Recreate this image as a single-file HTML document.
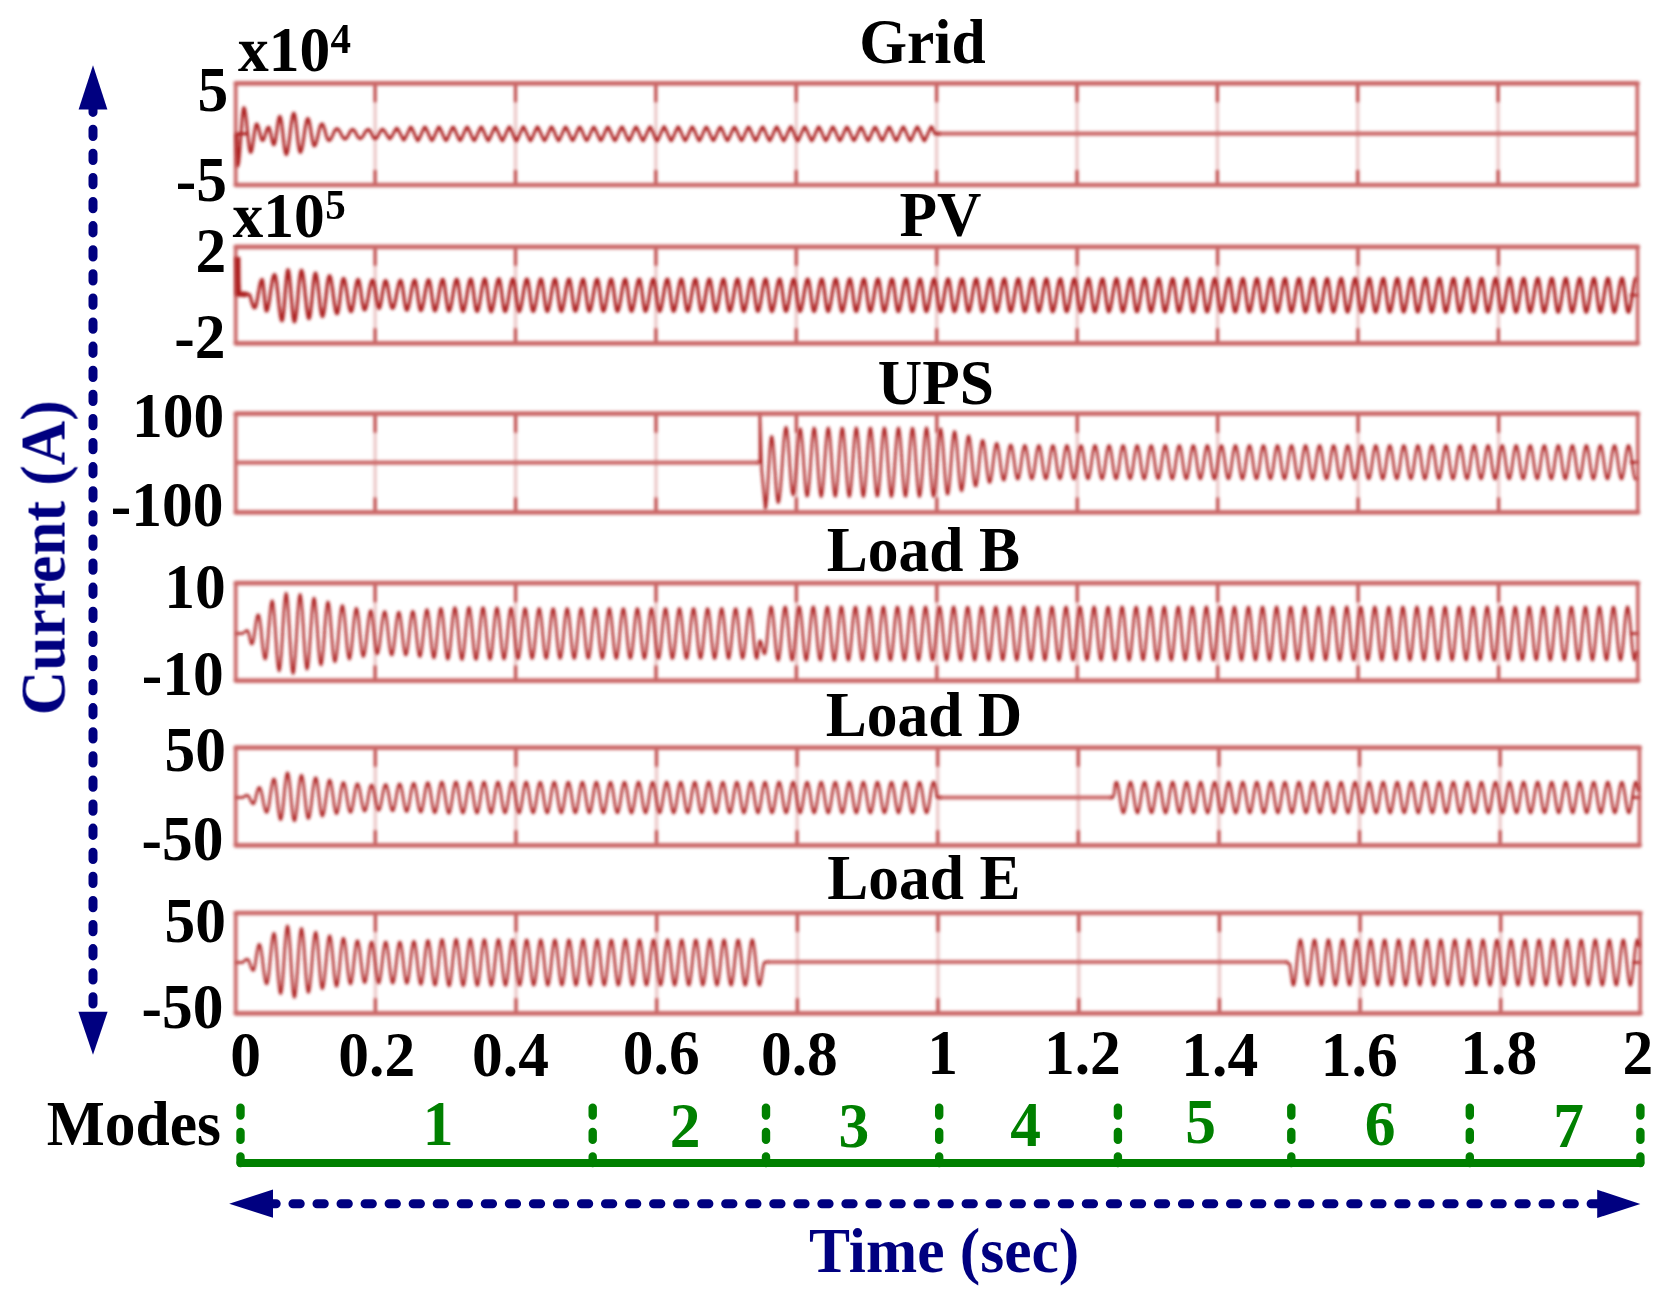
<!DOCTYPE html>
<html lang="en"><head><meta charset="utf-8"><title>Current waveforms</title>
<style>html,body{margin:0;padding:0;background:#fff;}body{width:1670px;height:1306px;overflow:hidden;}svg{display:block;}</style>
</head><body>
<svg width="1670" height="1306" viewBox="0 0 1670 1306" role="img" aria-label="Current waveforms">
<defs><filter id="b" x="-2%" y="-2%" width="104%" height="104%"><feGaussianBlur stdDeviation="1.35"/></filter><filter id="b2" x="-2%" y="-2%" width="104%" height="104%"><feGaussianBlur stdDeviation="1.6"/></filter><filter id="t" x="-2%" y="-2%" width="104%" height="104%"><feGaussianBlur stdDeviation="0.7"/></filter></defs>
<rect width="1670" height="1306" fill="#fff"/>
<g filter="url(#b)" fill="none" stroke="rgb(203,104,104)" stroke-linejoin="round" stroke-linecap="butt">
<path d="M375.1 83.3V185.0M515.5 83.3V185.0M655.8 83.3V185.0M796.2 83.3V185.0M936.6 83.3V185.0M1077.0 83.3V185.0M1217.4 83.3V185.0M1357.7 83.3V185.0M1498.1 83.3V185.0" stroke-width="3.4" stroke-opacity="0.36"/>
<path d="M375.1 83.3v19M375.1 185.0v-15M515.5 83.3v19M515.5 185.0v-15M655.8 83.3v19M655.8 185.0v-15M796.2 83.3v19M796.2 185.0v-15M936.6 83.3v19M936.6 185.0v-15M1077.0 83.3v19M1077.0 185.0v-15M1217.4 83.3v19M1217.4 185.0v-15M1357.7 83.3v19M1357.7 185.0v-15M1498.1 83.3v19M1498.1 185.0v-15" stroke-width="3.2" stroke="rgb(190,70,70)" stroke-opacity="0.95"/>
<path d="M235.7 83.3H1637.6M235.7 185.0H1637.6" stroke-width="4.7" stroke-linecap="round"/>
<path d="M235.7 83.3V185.0M1637.3 83.3V185.0" stroke-width="3.7"/>
<path d="M375.1 246.8V343.3M515.5 246.8V343.3M655.9 246.8V343.3M796.3 246.8V343.3M936.7 246.8V343.3M1077.2 246.8V343.3M1217.6 246.8V343.3M1358.0 246.8V343.3M1498.4 246.8V343.3" stroke-width="3.4" stroke-opacity="0.36"/>
<path d="M375.1 246.8v19M375.1 343.3v-15M515.5 246.8v19M515.5 343.3v-15M655.9 246.8v19M655.9 343.3v-15M796.3 246.8v19M796.3 343.3v-15M936.7 246.8v19M936.7 343.3v-15M1077.2 246.8v19M1077.2 343.3v-15M1217.6 246.8v19M1217.6 343.3v-15M1358.0 246.8v19M1358.0 343.3v-15M1498.4 246.8v19M1498.4 343.3v-15" stroke-width="3.2" stroke="rgb(190,70,70)" stroke-opacity="0.95"/>
<path d="M235.7 246.8H1637.9M235.7 343.3H1637.9" stroke-width="4.7" stroke-linecap="round"/>
<path d="M235.7 246.8V343.3M1637.6 246.8V343.3" stroke-width="3.7"/>
<path d="M375.1 413.7V512.4M515.6 413.7V512.4M656.0 413.7V512.4M796.4 413.7V512.4M936.8 413.7V512.4M1077.3 413.7V512.4M1217.7 413.7V512.4M1358.1 413.7V512.4M1498.6 413.7V512.4" stroke-width="3.4" stroke-opacity="0.36"/>
<path d="M375.1 413.7v19M375.1 512.4v-15M515.6 413.7v19M515.6 512.4v-15M656.0 413.7v19M656.0 512.4v-15M796.4 413.7v19M796.4 512.4v-15M936.8 413.7v19M936.8 512.4v-15M1077.3 413.7v19M1077.3 512.4v-15M1217.7 413.7v19M1217.7 512.4v-15M1358.1 413.7v19M1358.1 512.4v-15M1498.6 413.7v19M1498.6 512.4v-15" stroke-width="3.2" stroke="rgb(190,70,70)" stroke-opacity="0.95"/>
<path d="M235.7 413.7H1638.1M235.7 512.4H1638.1" stroke-width="4.7" stroke-linecap="round"/>
<path d="M235.7 413.7V512.4M1637.8 413.7V512.4" stroke-width="3.7"/>
<path d="M375.1 583.2V680.6M515.6 583.2V680.6M656.0 583.2V680.6M796.4 583.2V680.6M936.8 583.2V680.6M1077.3 583.2V680.6M1217.7 583.2V680.6M1358.1 583.2V680.6M1498.6 583.2V680.6" stroke-width="3.4" stroke-opacity="0.36"/>
<path d="M375.1 583.2v19M375.1 680.6v-15M515.6 583.2v19M515.6 680.6v-15M656.0 583.2v19M656.0 680.6v-15M796.4 583.2v19M796.4 680.6v-15M936.8 583.2v19M936.8 680.6v-15M1077.3 583.2v19M1077.3 680.6v-15M1217.7 583.2v19M1217.7 680.6v-15M1358.1 583.2v19M1358.1 680.6v-15M1498.6 583.2v19M1498.6 680.6v-15" stroke-width="3.2" stroke="rgb(190,70,70)" stroke-opacity="0.95"/>
<path d="M235.7 583.2H1638.1M235.7 680.6H1638.1" stroke-width="4.7" stroke-linecap="round"/>
<path d="M235.7 583.2V680.6M1637.8 583.2V680.6" stroke-width="3.7"/>
<path d="M375.3 747.7V845.3M515.9 747.7V845.3M656.5 747.7V845.3M797.1 747.7V845.3M937.7 747.7V845.3M1078.3 747.7V845.3M1218.9 747.7V845.3M1359.5 747.7V845.3M1500.1 747.7V845.3" stroke-width="3.4" stroke-opacity="0.36"/>
<path d="M375.3 747.7v19M375.3 845.3v-15M515.9 747.7v19M515.9 845.3v-15M656.5 747.7v19M656.5 845.3v-15M797.1 747.7v19M797.1 845.3v-15M937.7 747.7v19M937.7 845.3v-15M1078.3 747.7v19M1078.3 845.3v-15M1218.9 747.7v19M1218.9 845.3v-15M1359.5 747.7v19M1359.5 845.3v-15M1500.1 747.7v19M1500.1 845.3v-15" stroke-width="3.2" stroke="rgb(190,70,70)" stroke-opacity="0.95"/>
<path d="M235.7 747.7H1639.8M235.7 845.3H1639.8" stroke-width="4.7" stroke-linecap="round"/>
<path d="M235.7 747.7V845.3M1639.5 747.7V845.3" stroke-width="3.7"/>
<path d="M375.4 913.0V1013.3M516.0 913.0V1013.3M656.7 913.0V1013.3M797.4 913.0V1013.3M938.0 913.0V1013.3M1078.7 913.0V1013.3M1219.4 913.0V1013.3M1360.1 913.0V1013.3M1500.7 913.0V1013.3" stroke-width="3.4" stroke-opacity="0.36"/>
<path d="M375.4 913.0v19M375.4 1013.3v-15M516.0 913.0v19M516.0 1013.3v-15M656.7 913.0v19M656.7 1013.3v-15M797.4 913.0v19M797.4 1013.3v-15M938.0 913.0v19M938.0 1013.3v-15M1078.7 913.0v19M1078.7 1013.3v-15M1219.4 913.0v19M1219.4 1013.3v-15M1360.1 913.0v19M1360.1 1013.3v-15M1500.7 913.0v19M1500.7 1013.3v-15" stroke-width="3.2" stroke="rgb(190,70,70)" stroke-opacity="0.95"/>
<path d="M235.7 913.0H1640.5M235.7 1013.3H1640.5" stroke-width="4.7" stroke-linecap="round"/>
<path d="M235.7 913.0V1013.3M1640.2 913.0V1013.3" stroke-width="3.7"/>
<path d="M938.5 133.6H1637.5M236.0 462.6H759.0M939.5 797.5H1112.0M767.0 962.0H1288.0" stroke-width="4.2"/>
</g>
<g filter="url(#b2)" fill="none" stroke="rgb(172,30,30)" stroke-linejoin="round" stroke-linecap="butt">
<path d="M236.5 133.8L237.0 150.0L237.6 166.0L238.4 163.8L239.2 157.5L240.0 148.0L240.8 136.8L241.6 125.7L242.3 116.2L243.1 109.9L243.9 107.6L244.7 109.0L245.4 112.9L246.2 118.9L246.9 126.2L247.7 134.0L248.5 141.3L249.2 147.2L250.0 151.1L250.7 152.5L251.5 151.4L252.2 148.3L252.9 143.6L253.7 138.1L254.4 132.7L255.2 128.0L255.9 124.9L256.6 123.8L257.4 124.5L258.1 126.3L258.9 129.0L259.6 132.2L260.4 135.4L261.1 138.2L261.8 140.0L262.6 140.6L263.3 140.1L264.1 138.6L264.8 136.4L265.5 133.8L266.3 131.2L267.0 129.0L267.8 127.6L268.5 127.0L269.3 127.9L270.0 130.4L270.8 134.0L271.6 138.0L272.4 141.6L273.1 144.0L273.9 144.9L274.6 143.8L275.4 140.7L276.1 136.1L276.9 130.6L277.6 125.1L278.3 120.5L279.1 117.4L279.8 116.3L280.5 117.4L281.3 120.8L282.0 125.9L282.7 132.1L283.4 138.8L284.1 145.0L284.8 150.1L285.6 153.5L286.3 154.6L287.0 153.6L287.8 150.7L288.5 146.1L289.3 140.3L290.1 133.8L290.8 127.4L291.6 121.6L292.3 117.0L293.1 114.1L293.8 113.0L294.5 114.2L295.3 117.6L296.0 122.9L296.7 129.3L297.4 136.2L298.1 142.6L298.9 147.9L299.6 151.3L300.3 152.5L301.1 151.6L301.8 149.2L302.6 145.5L303.3 140.7L304.1 135.4L304.8 130.2L305.6 125.4L306.3 121.7L307.1 119.3L307.8 118.4L308.6 119.3L309.3 121.7L310.0 125.3L310.7 129.8L311.4 134.6L312.2 139.1L312.9 142.8L313.6 145.2L314.3 146.0L315.1 145.5L315.8 143.9L316.6 141.4L317.3 138.3L318.1 134.9L318.8 131.5L319.6 128.4L320.3 125.9L321.1 124.4L321.9 123.8L322.6 124.3L323.4 125.8L324.2 128.0L325.0 130.8L325.7 133.7L326.5 136.4L327.3 138.6L328.1 140.1L328.9 140.6L329.6 140.4L330.3 139.7L331.1 138.6L331.8 137.1L332.5 135.5L333.3 133.8L334.0 132.2L334.7 130.7L335.5 129.6L336.2 128.9L336.9 128.7L337.7 128.9L338.4 129.5L339.1 130.4L339.9 131.7L340.6 133.1L341.4 134.6L342.1 136.0L342.8 137.2L343.6 138.2L344.3 138.8L345.0 139.0L345.8 138.8L346.5 138.1L347.3 137.0L348.0 135.7L348.8 134.2L349.6 132.7L350.3 131.4L351.1 130.3L351.8 129.7L352.6 129.4L353.3 129.6L354.1 130.3L354.8 131.3L355.6 132.6L356.3 134.0L357.1 135.5L357.9 136.8L358.6 137.8L359.4 138.4L360.1 138.7L360.9 138.5L361.6 137.9L362.3 137.1L363.1 136.0L363.8 134.7L364.5 133.4L365.3 132.1L366.0 131.0L366.7 130.2L367.5 129.6L368.2 129.4L369.0 129.7L369.8 130.5L370.5 131.7L371.3 133.2L372.1 134.8L372.9 136.4L373.6 137.6L374.4 138.4L375.2 138.7L376.0 138.4L376.7 137.8L377.5 136.7L378.2 135.4L379.0 133.9L379.7 132.5L380.5 131.2L381.2 130.1L382.0 129.4L382.8 129.2L383.5 129.9L384.2 130.7L384.9 131.6L385.5 132.7L386.2 133.8L386.9 134.9L387.6 136.1L388.3 137.1L389.0 138.1L389.7 139.0L390.4 138.3L391.1 137.4L391.8 136.3L392.5 135.2L393.2 133.9L393.9 132.6L394.6 131.3L395.3 130.1L396.0 129.0L396.7 128.1L397.4 128.7L398.1 129.7L398.8 130.9L399.5 132.2L400.2 133.6L400.9 135.0L401.6 136.5L402.3 137.8L403.0 139.0L403.7 140.1L404.4 139.4L405.1 138.3L405.8 137.0L406.5 135.6L407.2 134.1L407.9 132.5L408.6 131.0L409.3 129.5L410.0 128.1L410.7 127.0L411.4 127.6L412.1 128.8L412.8 130.2L413.5 131.8L414.2 133.4L414.9 135.1L415.6 136.7L416.3 138.2L417.0 139.6L417.7 140.7L418.4 140.2L419.1 138.9L419.8 137.5L420.5 135.9L421.2 134.3L421.9 132.6L422.6 131.0L423.3 129.4L424.0 128.1L424.7 126.9L425.4 127.3L426.1 128.6L426.8 130.0L427.5 131.6L428.2 133.2L428.9 134.9L429.6 136.5L430.3 138.1L431.0 139.4L431.7 140.6L432.4 140.3L433.1 139.1L433.8 137.7L434.5 136.1L435.2 134.4L435.9 132.8L436.6 131.1L437.3 129.6L438.0 128.2L438.7 127.0L439.4 127.2L440.1 128.5L440.8 129.9L441.5 131.4L442.2 133.1L442.9 134.7L443.6 136.4L444.3 137.9L445.0 139.3L445.7 140.5L446.4 140.4L447.1 139.2L447.8 137.8L448.5 136.3L449.2 134.6L449.9 132.9L450.6 131.3L451.3 129.7L452.0 128.3L452.7 127.1L453.4 127.1L454.1 128.3L454.8 129.7L455.5 131.3L456.2 132.9L456.9 134.6L457.6 136.2L458.3 137.8L459.0 139.2L459.7 140.4L460.4 140.5L461.1 139.3L461.8 138.0L462.5 136.4L463.2 134.8L463.9 133.1L464.6 131.5L465.3 129.9L466.0 128.5L466.7 127.3L467.4 127.0L468.1 128.2L468.8 129.6L469.5 131.1L470.2 132.7L470.9 134.4L471.6 136.1L472.3 137.6L473.0 139.0L473.7 140.3L474.4 140.6L475.1 139.5L475.8 138.1L476.5 136.6L477.2 135.0L477.9 133.3L478.6 131.6L479.3 130.1L480.0 128.6L480.7 127.4L481.4 126.9L482.1 128.1L482.8 129.4L483.5 130.9L484.2 132.6L484.9 134.2L485.6 135.9L486.3 137.5L487.0 138.9L487.7 140.2L488.4 140.8L489.1 139.6L489.8 138.3L490.5 136.7L491.2 135.1L491.9 133.4L492.6 131.8L493.3 130.2L494.0 128.8L494.7 127.5L495.4 126.8L496.1 127.9L496.8 129.3L497.5 130.8L498.2 132.4L498.9 134.1L499.6 135.7L500.3 137.3L501.0 138.8L501.7 140.1L502.4 140.9L503.1 139.7L503.8 138.4L504.5 136.9L505.2 135.3L505.9 133.6L506.6 132.0L507.3 130.4L508.0 128.9L508.7 127.6L509.4 126.7L510.1 127.8L510.8 129.1L511.5 130.6L512.2 132.2L512.9 133.9L513.6 135.6L514.3 137.2L515.0 138.6L515.7 139.9L516.4 141.0L517.1 139.9L517.8 138.5L518.5 137.1L519.2 135.5L519.9 133.8L520.6 132.1L521.3 130.5L522.0 129.0L522.7 127.7L523.4 126.6L524.1 127.7L524.8 129.0L525.5 130.5L526.2 132.1L526.9 133.7L527.6 135.4L528.3 137.0L529.0 138.5L529.7 139.8L530.4 140.9L531.1 140.0L531.8 138.7L532.5 137.2L533.2 135.6L533.9 134.0L534.6 132.3L535.3 130.7L536.0 129.2L536.7 127.9L537.4 126.7L538.1 127.6L538.8 128.8L539.5 130.3L540.2 131.9L540.9 133.6L541.6 135.2L542.3 136.8L543.0 138.3L543.7 139.7L544.4 140.8L545.1 140.1L545.8 138.8L546.5 137.4L547.2 135.8L547.9 134.1L548.6 132.5L549.3 130.8L550.0 129.3L550.7 128.0L551.4 126.8L552.1 127.4L552.8 128.7L553.5 130.1L554.2 131.7L554.9 133.4L555.6 135.1L556.3 136.7L557.0 138.2L557.7 139.6L558.4 140.7L559.1 140.2L559.8 139.0L560.5 137.5L561.2 136.0L561.9 134.3L562.6 132.6L563.3 131.0L564.0 129.5L564.7 128.1L565.4 126.9L566.1 127.3L566.8 128.6L567.5 130.0L568.2 131.6L568.9 133.2L569.6 134.9L570.3 136.5L571.0 138.0L571.7 139.4L572.4 140.6L573.1 140.3L573.8 139.1L574.5 137.7L575.2 136.1L575.9 134.5L576.6 132.8L577.3 131.2L578.0 129.6L578.7 128.2L579.4 127.0L580.1 127.2L580.8 128.4L581.5 129.8L582.2 131.4L582.9 133.0L583.6 134.7L584.3 136.4L585.0 137.9L585.7 139.3L586.4 140.5L587.1 140.4L587.8 139.2L588.5 137.8L589.2 136.3L589.9 134.6L590.6 133.0L591.3 131.3L592.0 129.8L592.7 128.4L593.4 127.2L594.1 127.1L594.8 128.3L595.5 129.7L596.2 131.2L596.9 132.9L597.6 134.5L598.3 136.2L599.0 137.7L599.7 139.2L600.4 140.4L601.1 140.6L601.8 139.4L602.5 138.0L603.2 136.4L603.9 134.8L604.6 133.1L605.3 131.5L606.0 129.9L606.7 128.5L607.4 127.3L608.1 127.0L608.8 128.2L609.5 129.5L610.2 131.1L610.9 132.7L611.6 134.4L612.3 136.0L613.0 137.6L613.7 139.0L614.4 140.3L615.1 140.7L615.8 139.5L616.5 138.1L617.2 136.6L617.9 135.0L618.6 133.3L619.3 131.7L620.0 130.1L620.7 128.6L621.4 127.4L622.1 126.9L622.8 128.0L623.5 129.4L624.2 130.9L624.9 132.5L625.6 134.2L626.3 135.9L627.0 137.4L627.7 138.9L628.4 140.1L629.1 140.8L629.8 139.6L630.5 138.3L631.2 136.8L631.9 135.2L632.6 133.5L633.3 131.8L634.0 130.2L634.7 128.8L635.4 127.5L636.1 126.8L636.8 127.9L637.5 129.2L638.2 130.7L638.9 132.4L639.6 134.0L640.3 135.7L641.0 137.3L641.7 138.7L642.4 140.0L643.1 140.9L643.8 139.8L644.5 138.4L645.2 136.9L645.9 135.3L646.6 133.7L647.3 132.0L648.0 130.4L648.7 128.9L649.4 127.6L650.1 126.7L650.8 127.8L651.5 129.1L652.2 130.6L652.9 132.2L653.6 133.9L654.3 135.5L655.0 137.1L655.7 138.6L656.4 139.9L657.1 141.0L657.8 139.9L658.5 138.6L659.2 137.1L659.9 135.5L660.6 133.8L661.3 132.2L662.0 130.5L662.7 129.1L663.4 127.8L664.1 126.6L664.8 127.7L665.5 129.0L666.2 130.4L666.9 132.0L667.6 133.7L668.3 135.4L669.0 137.0L669.7 138.5L670.4 139.8L671.1 140.9L671.8 140.0L672.5 138.7L673.2 137.2L673.9 135.7L674.6 134.0L675.3 132.3L676.0 130.7L676.7 129.2L677.4 127.9L678.1 126.7L678.8 127.5L679.5 128.8L680.2 130.3L680.9 131.9L681.6 133.5L682.3 135.2L683.0 136.8L683.7 138.3L684.4 139.7L685.1 140.8L685.8 140.1L686.5 138.8L687.2 137.4L687.9 135.8L688.6 134.2L689.3 132.5L690.0 130.9L690.7 129.4L691.4 128.0L692.1 126.8L692.8 127.4L693.5 128.7L694.2 130.1L694.9 131.7L695.6 133.4L696.3 135.0L697.0 136.7L697.7 138.2L698.4 139.5L699.1 140.7L699.8 140.2L700.5 139.0L701.2 137.6L701.9 136.0L702.6 134.3L703.3 132.7L704.0 131.0L704.7 129.5L705.4 128.1L706.1 127.0L706.8 127.3L707.5 128.5L708.2 130.0L708.9 131.5L709.6 133.2L710.3 134.9L711.0 136.5L711.7 138.0L712.4 139.4L713.1 140.6L713.8 140.4L714.5 139.1L715.2 137.7L715.9 136.2L716.6 134.5L717.3 132.8L718.0 131.2L718.7 129.7L719.4 128.3L720.1 127.1L720.8 127.2L721.5 128.4L722.2 129.8L722.9 131.4L723.6 133.0L724.3 134.7L725.0 136.3L725.7 137.9L726.4 139.3L727.1 140.5L727.8 140.5L728.5 139.3L729.2 137.9L729.9 136.3L730.6 134.7L731.3 133.0L732.0 131.4L732.7 129.8L733.4 128.4L734.1 127.2L734.8 127.1L735.5 128.3L736.2 129.7L736.9 131.2L737.6 132.8L738.3 134.5L739.0 136.2L739.7 137.7L740.4 139.1L741.1 140.4L741.8 140.6L742.5 139.4L743.2 138.0L743.9 136.5L744.6 134.8L745.3 133.2L746.0 131.5L746.7 130.0L747.4 128.5L748.1 127.3L748.8 127.0L749.5 128.1L750.2 129.5L750.9 131.0L751.6 132.7L752.3 134.3L753.0 136.0L753.7 137.6L754.4 139.0L755.1 140.2L755.8 140.7L756.5 139.5L757.2 138.2L757.9 136.6L758.6 135.0L759.3 133.3L760.0 131.7L760.7 130.1L761.4 128.7L762.1 127.4L762.8 126.9L763.5 128.0L764.2 129.4L764.9 130.9L765.6 132.5L766.3 134.2L767.0 135.8L767.7 137.4L768.4 138.9L769.1 140.1L769.8 140.8L770.5 139.6L771.2 138.3L771.9 136.8L772.6 135.2L773.3 133.5L774.0 131.9L774.7 130.3L775.4 128.8L776.1 127.5L776.8 126.7L777.5 127.9L778.2 129.2L778.9 130.7L779.6 132.3L780.3 134.0L781.0 135.7L781.7 137.3L782.4 138.7L783.1 140.0L783.8 140.9L784.5 139.8L785.2 138.5L785.9 137.0L786.6 135.4L787.3 133.7L788.0 132.0L788.7 130.4L789.4 129.0L790.1 127.7L790.8 126.6L791.5 127.8L792.2 129.1L792.9 130.6L793.6 132.2L794.3 133.8L795.0 135.5L795.7 137.1L796.4 138.6L797.1 139.9L797.8 141.0L798.5 139.9L799.1 138.6L799.8 137.1L800.5 135.5L801.2 133.9L801.9 132.2L802.6 130.6L803.3 129.1L804.0 127.8L804.7 126.7L805.4 127.6L806.1 128.9L806.8 130.4L807.5 132.0L808.2 133.7L808.9 135.3L809.6 136.9L810.3 138.4L811.0 139.8L811.7 140.9L812.4 140.0L813.1 138.7L813.8 137.3L814.5 135.7L815.2 134.0L815.9 132.4L816.6 130.7L817.3 129.2L818.0 127.9L818.7 126.8L819.4 127.5L820.1 128.8L820.8 130.2L821.5 131.8L822.2 133.5L822.9 135.2L823.6 136.8L824.3 138.3L825.0 139.6L825.7 140.8L826.4 140.1L827.1 138.9L827.8 137.4L828.5 135.9L829.2 134.2L829.9 132.5L830.6 130.9L831.3 129.4L832.0 128.0L832.7 126.9L833.4 127.4L834.1 128.7L834.8 130.1L835.5 131.7L836.2 133.3L836.9 135.0L837.6 136.6L838.3 138.1L839.0 139.5L839.7 140.7L840.4 140.3L841.1 139.0L841.8 137.6L842.5 136.0L843.2 134.4L843.9 132.7L844.6 131.1L845.3 129.5L846.0 128.2L846.7 127.0L847.4 127.3L848.1 128.5L848.8 129.9L849.5 131.5L850.2 133.1L850.9 134.8L851.6 136.5L852.3 138.0L853.0 139.4L853.7 140.6L854.4 140.4L855.1 139.1L855.8 137.7L856.5 136.2L857.2 134.5L857.9 132.9L858.6 131.2L859.3 129.7L860.0 128.3L860.7 127.1L861.4 127.2L862.1 128.4L862.8 129.8L863.5 131.3L864.2 133.0L864.9 134.7L865.6 136.3L866.3 137.8L867.0 139.2L867.7 140.5L868.4 140.5L869.1 139.3L869.8 137.9L870.5 136.3L871.2 134.7L871.9 133.0L872.6 131.4L873.3 129.8L874.0 128.4L874.7 127.2L875.4 127.1L876.1 128.3L876.8 129.6L877.5 131.2L878.2 132.8L878.9 134.5L879.6 136.1L880.3 137.7L881.0 139.1L881.7 140.3L882.4 140.6L883.1 139.4L883.8 138.0L884.5 136.5L885.2 134.9L885.9 133.2L886.6 131.6L887.3 130.0L888.0 128.6L888.7 127.3L889.4 126.9L890.1 128.1L890.8 129.5L891.5 131.0L892.2 132.6L892.9 134.3L893.6 136.0L894.3 137.5L895.0 139.0L895.7 140.2L896.4 140.7L897.1 139.5L897.8 138.2L898.5 136.7L899.2 135.0L899.9 133.4L900.6 131.7L901.3 130.1L902.0 128.7L902.7 127.4L903.4 126.8L904.1 128.0L904.8 129.3L905.5 130.8L906.2 132.5L906.9 134.1L907.6 135.8L908.3 137.4L909.0 138.8L909.7 140.1L910.4 140.8L911.1 139.7L911.8 138.3L912.5 136.8L913.2 135.2L913.9 133.5L914.6 131.9L915.3 130.3L916.0 128.8L916.7 127.6L917.4 126.7L918.1 127.9L918.8 129.2L919.5 130.7L920.2 132.3L920.9 134.0L921.6 135.6L922.3 137.2L923.0 138.7L923.7 140.0L924.4 140.9L925.1 139.8L925.8 138.5L926.5 137.0L927.2 135.4L927.9 133.7L928.6 132.0L929.3 130.5L930.0 129.0L930.7 127.7L931.4 126.6L932.1 127.7L932.8 129.0L933.5 130.5L934.2 132.1L934.9 133.8L936.5 133.8L940.0 133.8" stroke-width="2.9"/>
<path d="M236.8 257.0L237.6 275.0L239.5 292.0L242.0 294.5L248.5 294.0L249.3 294.5L250.0 296.0L250.8 298.3L251.5 301.0L252.3 303.7L253.0 305.9L253.8 307.5L254.6 308.0L255.3 307.3L256.1 305.3L256.8 302.1L257.6 298.1L258.3 293.7L259.1 289.2L259.8 285.2L260.6 282.1L261.4 280.0L262.1 279.3L262.8 281.5L263.5 287.3L264.3 295.3L265.0 303.3L265.7 309.1L266.4 311.2L267.2 310.5L267.9 308.3L268.6 304.9L269.4 300.5L270.1 295.5L270.8 290.2L271.6 285.2L272.3 280.8L273.0 277.4L273.8 275.2L274.5 274.5L275.3 275.6L276.0 278.9L276.8 284.1L277.5 290.5L278.3 297.7L279.0 304.9L279.8 311.4L280.5 316.5L281.3 319.8L282.0 320.9L282.8 319.0L283.5 313.4L284.3 305.1L285.0 295.3L285.8 285.5L286.5 277.1L287.2 271.6L288.0 269.6L288.7 271.2L289.4 275.8L290.1 282.7L290.8 291.3L291.6 300.4L292.3 308.9L293.0 315.9L293.7 320.4L294.4 322.0L295.2 320.4L296.0 315.9L296.8 309.0L297.6 300.6L298.3 291.6L299.1 283.1L299.9 276.2L300.7 271.7L301.4 270.2L302.2 271.4L303.0 274.8L303.7 280.2L304.5 287.0L305.2 294.5L306.0 302.0L306.7 308.8L307.5 314.1L308.2 317.6L309.0 318.8L309.7 317.4L310.4 313.4L311.1 307.3L311.9 299.8L312.6 291.8L313.3 284.3L314.0 278.2L314.7 274.3L315.5 272.9L316.2 274.2L317.0 278.0L317.8 283.8L318.6 290.9L319.4 298.5L320.1 305.7L320.9 311.5L321.7 315.3L322.5 316.6L323.2 315.4L324.0 311.8L324.8 306.4L325.6 299.7L326.4 292.5L327.1 285.8L327.9 280.4L328.7 276.8L329.5 275.6L330.2 276.5L331.0 279.2L331.7 283.5L332.5 288.8L333.2 294.7L334.0 300.7L334.8 306.0L335.5 310.3L336.3 313.0L337.0 313.9L337.7 312.8L338.5 309.7L339.2 305.0L339.9 299.2L340.6 293.0L341.3 287.2L342.0 282.4L342.8 279.3L343.5 278.3L344.2 279.1L345.0 281.5L345.7 285.2L346.5 289.8L347.3 295.0L348.0 300.2L348.8 304.9L349.5 308.6L350.3 310.9L351.0 311.8L351.8 310.8L352.6 308.0L353.4 303.7L354.1 298.4L354.9 292.7L355.7 287.4L356.5 283.1L357.3 280.3L358.0 279.3L358.8 280.3L359.5 282.9L360.2 287.0L360.9 292.1L361.6 297.4L362.3 302.4L363.1 306.5L363.8 309.2L364.5 310.1L365.2 309.5L366.0 307.7L366.7 304.9L367.4 301.3L368.2 297.2L368.9 292.9L369.6 288.7L370.4 285.1L371.1 282.3L371.8 280.5L372.6 279.9L373.3 280.7L374.0 283.2L374.7 287.0L375.5 291.7L376.2 296.7L376.9 301.4L377.6 305.2L378.3 307.7L379.1 308.5L379.8 307.7L380.5 305.2L381.2 301.5L381.9 296.9L382.6 292.0L383.4 287.4L384.1 283.7L384.8 281.3L385.5 280.4L386.3 281.3L387.1 283.7L387.9 287.4L388.6 292.0L389.4 296.9L390.2 301.5L391.0 305.2L391.7 307.7L392.5 308.5L393.3 308.0L394.0 306.3L394.7 303.6L395.5 300.2L396.2 296.4L396.9 292.3L397.7 288.5L398.4 285.1L399.1 282.4L399.9 280.8L400.6 280.2L401.4 281.4L402.2 284.9L403.0 290.0L403.8 296.0L404.6 301.9L405.4 306.7L406.2 309.7L407.0 310.3L407.8 309.1L408.6 306.5L409.4 302.8L410.2 298.3L411.0 293.4L411.8 288.8L412.6 284.7L413.4 281.8L414.2 280.1L415.0 280.1L415.8 282.4L416.6 286.8L417.4 292.6L418.2 298.8L419.0 304.5L419.8 308.6L420.6 310.6L421.4 310.3L422.2 308.4L423.0 305.2L423.8 301.0L424.6 296.1L425.4 291.2L426.2 286.7L427.0 283.0L427.8 280.5L428.6 279.6L429.4 280.6L430.2 284.0L431.0 289.2L431.8 295.4L432.6 301.6L433.4 306.8L434.2 310.1L435.0 311.0L435.8 309.9L436.6 307.3L437.4 303.6L438.2 298.9L439.0 293.9L439.8 289.0L440.6 284.7L441.4 281.5L442.2 279.6L443.0 279.4L443.8 281.6L444.6 285.9L445.4 291.9L446.2 298.3L447.0 304.3L447.8 308.8L448.6 311.1L449.4 310.9L450.2 309.2L451.0 306.0L451.8 301.7L452.6 296.7L453.4 291.6L454.2 286.8L455.0 282.9L455.8 280.2L456.6 279.1L457.4 279.9L458.2 283.1L459.0 288.4L459.8 294.8L460.6 301.2L461.4 306.7L462.2 310.3L463.0 311.5L463.8 310.5L464.6 308.0L465.4 304.3L466.2 299.5L467.0 294.4L467.8 289.3L468.6 284.8L469.4 281.4L470.2 279.3L471.0 278.9L471.8 280.9L472.6 285.2L473.4 291.1L474.2 297.7L475.0 304.0L475.8 308.7L476.6 311.3L477.4 311.4L478.2 309.8L479.0 306.6L479.8 302.3L480.6 297.3L481.4 292.0L482.2 287.1L483.0 283.0L483.8 280.1L484.6 278.7L485.4 279.3L486.2 282.4L487.0 287.6L487.8 294.1L488.6 300.7L489.4 306.4L490.2 310.3L491.0 311.8L491.8 311.0L492.6 308.6L493.4 304.9L494.2 300.1L495.0 294.9L495.8 289.7L496.6 285.1L497.4 281.5L498.2 279.3L499.0 278.7L499.8 280.4L500.6 284.5L501.4 290.4L502.2 297.1L503.0 303.4L503.8 308.4L504.6 311.3L505.4 311.6L506.2 310.1L507.0 307.0L507.8 302.8L508.6 297.8L509.4 292.6L510.2 287.6L511.0 283.4L511.8 280.4L512.6 278.8L513.4 279.2L514.2 282.0L515.0 287.0L515.8 293.4L516.6 300.0L517.4 305.8L518.2 309.9L519.0 311.6L519.8 311.0L520.6 308.8L521.4 305.2L522.2 300.6L523.0 295.5L523.8 290.3L524.6 285.6L525.4 281.9L526.2 279.5L527.0 278.8L527.8 280.2L528.6 284.1L529.4 289.8L530.2 296.4L531.0 302.8L531.8 307.9L532.6 311.0L533.4 311.5L534.2 310.2L535.0 307.3L535.8 303.2L536.6 298.3L537.4 293.1L538.2 288.1L539.0 283.8L539.8 280.7L540.6 279.0L541.4 279.1L542.2 281.7L543.0 286.5L543.8 292.7L544.6 299.3L545.4 305.2L546.2 309.5L547.0 311.5L547.8 311.1L548.6 309.0L549.4 305.6L550.2 301.1L551.0 296.0L551.8 290.8L552.6 286.1L553.4 282.3L554.2 279.8L555.0 278.9L555.8 280.0L556.6 283.7L557.4 289.2L558.2 295.7L559.0 302.1L559.8 307.4L560.6 310.7L561.4 311.5L562.2 310.3L563.0 307.6L563.8 303.6L564.6 298.8L565.4 293.7L566.2 288.6L567.0 284.3L567.8 281.1L568.6 279.2L569.4 279.1L570.2 281.4L571.0 286.0L571.8 292.0L572.6 298.6L573.4 304.6L574.2 309.1L575.0 311.3L575.8 311.1L576.6 309.2L577.4 305.9L578.2 301.5L579.0 296.5L579.8 291.4L580.6 286.6L581.4 282.7L582.2 280.1L583.0 279.0L583.8 279.9L584.6 283.3L585.4 288.6L586.2 295.0L587.0 301.4L587.8 306.8L588.6 310.3L589.4 311.4L590.2 310.4L591.0 307.9L591.8 304.0L592.6 299.3L593.4 294.2L594.2 289.2L595.0 284.7L595.8 281.4L596.6 279.4L597.4 279.1L598.2 281.1L599.0 285.5L599.8 291.4L600.6 297.9L601.4 304.0L602.2 308.7L603.0 311.2L603.8 311.2L604.6 309.5L605.4 306.3L606.2 302.0L607.0 297.1L607.8 291.9L608.6 287.1L609.4 283.1L610.2 280.3L611.0 279.0L611.8 279.7L612.6 282.8L613.4 288.0L614.2 294.3L615.0 300.8L615.8 306.4L616.6 310.1L617.4 311.4L618.2 310.6L619.0 308.2L619.8 304.5L620.6 299.9L621.4 294.7L622.2 289.7L623.0 285.1L623.8 281.6L624.6 279.5L625.4 279.0L626.2 280.8L627.0 284.9L627.8 290.7L628.6 297.3L629.4 303.5L630.2 308.3L631.0 311.0L631.8 311.3L632.6 309.7L633.4 306.7L634.2 302.5L635.0 297.6L635.8 292.4L636.6 287.5L637.4 283.4L638.2 280.5L639.0 279.1L639.8 279.5L640.6 282.4L641.4 287.4L642.2 293.6L643.0 300.2L643.8 305.9L644.6 309.9L645.4 311.4L646.2 310.8L647.0 308.5L647.8 305.0L648.6 300.4L649.4 295.3L650.2 290.2L651.0 285.6L651.8 281.9L652.6 279.7L653.4 278.9L654.2 280.5L655.0 284.4L655.8 290.1L656.6 296.6L657.4 302.9L658.2 307.9L659.0 310.9L659.8 311.4L660.6 310.0L661.4 307.1L662.2 303.0L663.0 298.1L663.8 292.9L664.6 288.0L665.4 283.8L666.2 280.7L667.0 279.1L667.8 279.3L668.6 281.9L669.4 286.8L670.2 293.0L671.0 299.5L671.8 305.4L672.6 309.6L673.4 311.4L674.2 310.9L675.0 308.9L675.8 305.4L676.6 300.9L677.4 295.8L678.2 290.7L679.0 286.0L679.8 282.2L680.6 279.8L681.4 278.9L682.2 280.2L683.0 283.9L683.8 289.4L684.6 295.9L685.4 302.3L686.2 307.5L687.0 310.7L687.8 311.4L688.6 310.2L689.4 307.5L690.2 303.5L691.0 298.6L691.8 293.5L692.6 288.5L693.4 284.1L694.2 280.9L695.0 279.2L695.8 279.1L696.6 281.5L697.4 286.2L698.2 292.3L699.0 298.9L699.8 304.8L700.6 309.3L701.4 311.4L702.2 311.1L703.0 309.2L703.8 305.8L704.6 301.4L705.4 296.3L706.2 291.2L707.0 286.4L707.8 282.5L708.6 280.0L709.4 278.9L710.2 279.9L711.0 283.4L711.8 288.8L712.6 295.2L713.4 301.7L714.2 307.1L715.0 310.5L715.8 311.5L716.6 310.4L717.4 307.8L718.2 303.9L719.0 299.2L719.8 294.0L720.6 289.0L721.4 284.5L722.2 281.2L723.0 279.3L723.8 279.0L724.6 281.2L725.4 285.6L726.2 291.6L727.0 298.2L727.8 304.3L728.6 308.9L729.4 311.3L730.2 311.2L731.0 309.5L731.8 306.2L732.6 301.9L733.4 296.9L734.2 291.7L735.0 286.9L735.8 282.9L736.6 280.1L737.4 278.9L738.2 279.7L739.0 282.9L739.8 288.1L740.6 294.6L741.4 301.1L742.2 306.6L743.0 310.3L743.8 311.5L744.6 310.6L745.4 308.2L746.2 304.4L747.0 299.7L747.8 294.5L748.6 289.4L749.4 284.9L750.2 281.5L751.0 279.4L751.8 278.9L752.6 280.8L753.4 285.0L754.2 290.9L755.0 297.5L755.8 303.7L756.6 308.6L757.4 311.2L758.2 311.3L759.0 309.7L759.8 306.6L760.6 302.4L761.4 297.4L762.2 292.2L763.0 287.3L763.8 283.2L764.6 280.3L765.4 278.9L766.2 279.4L767.0 282.4L767.8 287.5L768.6 293.9L769.4 300.4L770.2 306.1L771.0 310.1L771.8 311.6L772.6 310.8L773.4 308.5L774.2 304.9L775.0 300.2L775.8 295.1L776.6 289.9L777.4 285.3L778.2 281.7L779.0 279.5L779.8 278.8L780.6 280.5L781.4 284.5L782.2 290.3L783.0 296.8L783.8 303.2L784.6 308.2L785.4 311.1L786.2 311.4L787.0 310.0L787.8 307.0L788.6 302.9L789.4 298.0L790.2 292.7L791.0 287.8L791.8 283.6L792.6 280.5L793.4 279.0L794.2 279.2L795.0 282.0L795.8 286.9L796.6 293.2L797.4 299.8L798.2 305.6L799.0 309.8L799.8 311.5L800.6 311.0L801.4 308.8L802.2 305.3L803.0 300.7L803.8 295.6L804.6 290.4L805.4 285.8L806.2 282.0L807.0 279.6L807.8 278.8L808.6 280.2L809.4 284.0L810.2 289.6L811.0 296.2L811.8 302.6L812.6 307.8L813.4 310.9L814.2 311.5L815.0 310.2L815.8 307.4L816.6 303.4L817.4 298.5L818.2 293.3L819.0 288.3L819.8 283.9L820.6 280.8L821.4 279.0L822.2 279.1L823.0 281.6L823.8 286.3L824.6 292.5L825.4 299.1L826.2 305.1L827.0 309.5L827.8 311.5L828.6 311.2L829.4 309.2L830.2 305.7L831.0 301.3L831.8 296.2L832.6 291.0L833.4 286.2L834.2 282.3L835.0 279.8L835.8 278.8L836.6 279.9L837.4 283.5L838.2 289.0L839.0 295.5L839.8 302.0L840.6 307.3L841.4 310.7L842.2 311.6L843.0 310.5L843.8 307.8L844.6 303.8L845.4 299.0L846.2 293.8L847.0 288.7L847.8 284.3L848.6 281.0L849.4 279.1L850.2 278.9L851.0 281.2L851.8 285.7L852.6 291.8L853.4 298.5L854.2 304.6L855.0 309.1L855.8 311.4L856.6 311.3L857.4 309.5L858.2 306.2L859.0 301.8L859.8 296.7L860.6 291.5L861.4 286.6L862.2 282.7L863.0 280.0L863.8 278.8L864.6 279.6L865.4 283.0L866.2 288.3L867.0 294.8L867.8 301.3L868.6 306.9L869.4 310.5L870.2 311.6L871.0 310.7L871.8 308.2L872.6 304.3L873.4 299.5L874.2 294.3L875.0 289.2L875.8 284.7L876.6 281.3L877.4 279.2L878.2 278.8L879.0 280.8L879.8 285.2L880.6 291.1L881.4 297.8L882.2 304.0L883.0 308.8L883.8 311.4L884.6 311.4L885.4 309.7L886.2 306.6L887.0 302.3L887.8 297.2L888.6 292.0L889.4 287.1L890.2 283.0L891.0 280.1L891.8 278.8L892.6 279.4L893.4 282.5L894.2 287.7L895.0 294.1L895.8 300.7L896.6 306.4L897.4 310.3L898.2 311.7L899.0 310.9L899.8 308.5L900.6 304.8L901.4 300.1L902.2 294.9L903.0 289.7L903.8 285.1L904.6 281.5L905.4 279.3L906.2 278.8L907.0 280.5L907.8 284.6L908.6 290.5L909.4 297.1L910.2 303.4L911.0 308.4L911.8 311.2L912.6 311.5L913.4 310.0L914.2 307.0L915.0 302.8L915.8 297.8L916.6 292.5L917.4 287.6L918.2 283.4L919.0 280.4L919.8 278.9L920.6 279.2L921.4 282.1L922.2 287.1L923.0 293.4L923.8 300.0L924.6 305.9L925.4 310.0L926.2 311.7L927.0 311.1L927.8 308.8L928.6 305.2L929.4 300.6L930.2 295.4L931.0 290.2L931.8 285.5L932.6 281.8L933.4 279.5L934.2 278.7L935.0 280.2L935.8 284.1L936.6 289.8L937.4 296.4L938.2 302.8L939.0 308.0L939.8 311.1L940.6 311.6L941.4 310.3L942.2 307.4L943.0 303.3L943.8 298.3L944.6 293.1L945.4 288.0L946.2 283.7L947.0 280.6L947.8 278.9L948.6 279.0L949.4 281.6L950.2 286.5L951.0 292.7L951.8 299.4L952.6 305.4L953.4 309.7L954.2 311.6L955.0 311.2L955.8 309.2L956.6 305.7L957.4 301.1L958.2 296.0L959.0 290.7L959.8 286.0L960.6 282.1L961.4 279.6L962.2 278.7L963.0 279.9L963.8 283.6L964.6 289.1L965.4 295.7L966.2 302.2L967.0 307.6L967.8 310.9L968.6 311.7L969.4 310.5L970.2 307.8L971.0 303.7L971.8 298.9L972.6 293.6L973.4 288.5L974.2 284.1L975.0 280.8L975.8 279.0L976.6 278.9L977.4 281.2L978.2 285.9L979.0 292.0L979.8 298.7L980.6 304.8L981.4 309.4L982.2 311.6L983.0 311.4L983.8 309.5L984.6 306.1L985.4 301.6L986.2 296.5L987.0 291.3L987.8 286.4L988.6 282.4L989.4 279.8L990.2 278.7L991.0 279.6L991.8 283.0L992.6 288.5L993.4 295.0L994.2 301.6L995.0 307.1L995.8 310.7L996.6 311.8L997.4 310.7L998.2 308.1L999.0 304.2L999.8 299.4L1000.6 294.1L1001.4 289.0L1002.2 284.5L1003.0 281.1L1003.8 279.1L1004.6 278.7L1005.4 280.8L1006.2 285.3L1007.0 291.3L1007.8 298.0L1008.6 304.3L1009.4 309.0L1010.2 311.5L1011.0 311.5L1011.8 309.8L1012.6 306.5L1013.4 302.1L1014.2 297.1L1015.0 291.8L1015.8 286.9L1016.6 282.8L1017.4 279.9L1018.2 278.7L1019.0 279.3L1019.8 282.6L1020.6 287.8L1021.4 294.3L1022.2 301.0L1023.0 306.7L1023.8 310.5L1024.6 311.8L1025.4 310.9L1026.2 308.5L1027.0 304.7L1027.8 299.9L1028.6 294.7L1029.4 289.5L1030.2 284.9L1031.0 281.3L1031.8 279.2L1032.6 278.6L1033.4 280.5L1034.2 284.7L1035.0 290.7L1035.8 297.4L1036.6 303.7L1037.4 308.7L1038.2 311.4L1039.0 311.6L1039.8 310.0L1040.6 306.9L1041.4 302.7L1042.2 297.6L1043.0 292.3L1043.8 287.3L1044.6 283.1L1045.4 280.1L1046.2 278.7L1047.0 279.1L1047.8 282.1L1048.6 287.2L1049.4 293.6L1050.2 300.3L1051.0 306.2L1051.8 310.2L1052.6 311.8L1053.4 311.1L1054.2 308.8L1055.0 305.2L1055.8 300.5L1056.6 295.2L1057.3 290.0L1058.1 285.3L1058.9 281.6L1059.7 279.3L1060.5 278.6L1061.3 280.1L1062.1 284.2L1062.9 290.0L1063.7 296.7L1064.5 303.1L1065.3 308.3L1066.1 311.3L1066.9 311.7L1067.7 310.3L1068.5 307.4L1069.3 303.2L1070.1 298.2L1070.9 292.9L1071.7 287.8L1072.5 283.5L1073.3 280.3L1074.1 278.7L1074.9 278.9L1075.7 281.6L1076.5 286.6L1077.3 292.9L1078.1 299.7L1078.9 305.7L1079.7 309.9L1080.5 311.8L1081.3 311.3L1082.1 309.2L1082.9 305.6L1083.7 301.0L1084.5 295.8L1085.3 290.5L1086.1 285.7L1086.9 281.9L1087.7 279.4L1088.5 278.5L1089.3 279.8L1090.1 283.6L1090.9 289.3L1091.7 296.0L1092.5 302.5L1093.3 307.8L1094.1 311.1L1094.9 311.8L1095.7 310.6L1096.5 307.7L1097.3 303.7L1098.1 298.7L1098.9 293.4L1099.7 288.3L1100.5 283.9L1101.3 280.6L1102.1 278.8L1102.9 278.8L1103.7 281.2L1104.5 286.0L1105.3 292.2L1106.1 299.0L1106.9 305.1L1107.7 309.6L1108.5 311.8L1109.3 311.5L1110.1 309.5L1110.9 306.1L1111.7 301.5L1112.5 296.3L1113.3 291.0L1114.1 286.2L1114.9 282.2L1115.7 279.6L1116.5 278.5L1117.3 279.5L1118.1 283.1L1118.9 288.7L1119.7 295.3L1120.5 301.9L1121.3 307.4L1122.1 310.9L1122.9 311.9L1123.7 310.8L1124.5 308.1L1125.3 304.1L1126.1 299.2L1126.9 293.9L1127.7 288.8L1128.5 284.2L1129.3 280.8L1130.1 278.9L1130.9 278.6L1131.7 280.8L1132.5 285.4L1133.3 291.6L1134.1 298.3L1134.9 304.6L1135.7 309.3L1136.5 311.7L1137.3 311.6L1138.1 309.8L1138.9 306.5L1139.7 302.0L1140.5 296.9L1141.3 291.6L1142.1 286.6L1142.9 282.5L1143.7 279.7L1144.5 278.5L1145.3 279.3L1146.1 282.6L1146.9 288.0L1147.7 294.6L1148.5 301.3L1149.3 306.9L1150.1 310.7L1150.9 312.0L1151.7 311.0L1152.5 308.5L1153.3 304.6L1154.1 299.8L1154.9 294.5L1155.7 289.3L1156.5 284.6L1157.3 281.1L1158.1 279.0L1158.9 278.5L1159.7 280.5L1160.5 284.8L1161.3 290.9L1162.1 297.6L1162.9 304.0L1163.7 308.9L1164.5 311.6L1165.3 311.8L1166.1 310.1L1166.9 306.9L1167.7 302.5L1168.5 297.4L1169.3 292.1L1170.1 287.1L1170.9 282.9L1171.7 279.9L1172.5 278.5L1173.3 279.0L1174.1 282.1L1174.9 287.4L1175.7 293.9L1176.5 300.6L1177.3 306.4L1178.1 310.5L1178.9 312.0L1179.7 311.2L1180.5 308.9L1181.3 305.1L1182.1 300.3L1182.9 295.0L1183.7 289.8L1184.5 285.1L1185.3 281.4L1186.1 279.1L1186.9 278.4L1187.7 280.1L1188.5 284.2L1189.3 290.2L1190.1 296.9L1190.9 303.4L1191.7 308.5L1192.5 311.5L1193.3 311.9L1194.1 310.4L1194.9 307.3L1195.7 303.1L1196.5 298.0L1197.3 292.6L1198.1 287.5L1198.9 283.2L1199.7 280.1L1200.5 278.5L1201.3 278.8L1202.1 281.7L1202.9 286.7L1203.7 293.2L1204.5 299.9L1205.3 305.9L1206.1 310.2L1206.9 312.0L1207.7 311.4L1208.5 309.2L1209.3 305.6L1210.1 300.9L1210.9 295.6L1211.7 290.3L1212.5 285.5L1213.3 281.7L1214.1 279.2L1214.9 278.4L1215.7 279.8L1216.5 283.7L1217.3 289.5L1218.1 296.2L1218.9 302.8L1219.7 308.1L1220.5 311.3L1221.3 312.0L1222.1 310.6L1222.9 307.7L1223.7 303.6L1224.5 298.5L1225.3 293.2L1226.1 288.0L1226.9 283.6L1227.7 280.4L1228.5 278.6L1229.3 278.6L1230.1 281.2L1230.9 286.1L1231.7 292.5L1232.5 299.3L1233.3 305.4L1234.1 309.9L1234.9 312.0L1235.7 311.6L1236.5 309.5L1237.3 306.0L1238.1 301.4L1238.9 296.2L1239.7 290.8L1240.5 285.9L1241.3 282.0L1242.1 279.4L1242.9 278.3L1243.7 279.5L1244.5 283.2L1245.3 288.8L1246.1 295.5L1246.9 302.2L1247.7 307.7L1248.5 311.2L1249.3 312.0L1250.1 310.9L1250.9 308.1L1251.7 304.1L1252.5 299.1L1253.3 293.7L1254.1 288.5L1254.9 284.0L1255.7 280.6L1256.5 278.7L1257.3 278.5L1258.1 280.8L1258.9 285.5L1259.7 291.8L1260.5 298.6L1261.3 304.9L1262.1 309.5L1262.9 311.9L1263.7 311.7L1264.5 309.8L1265.3 306.4L1266.1 301.9L1266.9 296.7L1267.7 291.3L1268.5 286.4L1269.3 282.3L1270.1 279.5L1270.9 278.3L1271.7 279.2L1272.5 282.7L1273.3 288.2L1274.1 294.8L1274.9 301.5L1275.7 307.2L1276.5 310.9L1277.3 312.1L1278.1 311.1L1278.9 308.5L1279.7 304.5L1280.5 299.6L1281.3 294.3L1282.1 289.0L1282.9 284.4L1283.7 280.9L1284.5 278.8L1285.3 278.4L1286.1 280.4L1286.9 284.9L1287.7 291.1L1288.5 297.9L1289.3 304.3L1290.1 309.2L1290.9 311.8L1291.7 311.9L1292.5 310.1L1293.3 306.9L1294.1 302.4L1294.9 297.3L1295.7 291.9L1296.5 286.8L1297.3 282.6L1298.1 279.7L1298.9 278.3L1299.7 279.0L1300.5 282.2L1301.3 287.5L1302.1 294.1L1302.9 300.9L1303.7 306.7L1304.5 310.7L1305.3 312.1L1306.1 311.3L1306.9 308.9L1307.7 305.0L1308.5 300.2L1309.3 294.8L1310.1 289.5L1310.9 284.8L1311.7 281.1L1312.5 278.9L1313.3 278.3L1314.1 280.1L1314.9 284.3L1315.7 290.4L1316.5 297.2L1317.3 303.7L1318.1 308.8L1318.9 311.7L1319.7 312.0L1320.5 310.4L1321.3 307.3L1322.1 303.0L1322.9 297.8L1323.7 292.4L1324.5 287.3L1325.3 283.0L1326.1 279.9L1326.9 278.4L1327.7 278.7L1328.5 281.7L1329.3 286.9L1330.1 293.4L1330.9 300.2L1331.7 306.2L1332.5 310.4L1333.3 312.2L1334.1 311.5L1334.9 309.2L1335.7 305.5L1336.5 300.7L1337.3 295.4L1338.1 290.1L1338.9 285.2L1339.7 281.4L1340.5 279.0L1341.3 278.2L1342.1 279.7L1342.9 283.8L1343.7 289.7L1344.5 296.5L1345.3 303.1L1346.1 308.4L1346.9 311.6L1347.7 312.1L1348.5 310.7L1349.3 307.7L1350.1 303.5L1350.9 298.4L1351.7 293.0L1352.5 287.8L1353.3 283.4L1354.1 280.1L1354.9 278.4L1355.7 278.5L1356.5 281.3L1357.3 286.2L1358.1 292.7L1358.9 299.5L1359.7 305.7L1360.5 310.1L1361.3 312.1L1362.1 311.7L1362.9 309.5L1363.7 305.9L1364.5 301.3L1365.3 296.0L1366.1 290.6L1366.9 285.7L1367.7 281.7L1368.5 279.2L1369.3 278.2L1370.1 279.4L1370.9 283.2L1371.7 289.0L1372.5 295.8L1373.3 302.5L1374.1 308.0L1374.9 311.4L1375.7 312.2L1376.5 310.9L1377.3 308.1L1378.1 304.0L1378.9 298.9L1379.7 293.5L1380.5 288.3L1381.3 283.8L1382.1 280.4L1382.9 278.5L1383.7 278.4L1384.5 280.8L1385.3 285.6L1386.1 292.0L1386.9 298.9L1387.7 305.1L1388.5 309.8L1389.3 312.1L1390.1 311.8L1390.9 309.8L1391.7 306.4L1392.5 301.8L1393.3 296.5L1394.1 291.1L1394.9 286.1L1395.7 282.1L1396.5 279.3L1397.3 278.2L1398.1 279.2L1398.9 282.7L1399.7 288.3L1400.5 295.1L1401.3 301.8L1402.1 307.5L1402.9 311.1L1403.7 312.2L1404.5 311.1L1405.3 308.5L1406.1 304.4L1406.9 299.5L1407.7 294.1L1408.5 288.8L1409.3 284.2L1410.1 280.6L1410.9 278.6L1411.7 278.3L1412.5 280.5L1413.3 285.0L1414.1 291.3L1414.9 298.2L1415.7 304.6L1416.5 309.4L1417.3 312.0L1418.1 312.0L1418.9 310.1L1419.7 306.8L1420.5 302.3L1421.3 297.1L1422.1 291.7L1422.9 286.6L1423.7 282.4L1424.5 279.5L1425.3 278.2L1426.1 278.9L1426.9 282.3L1427.7 287.7L1428.5 294.4L1429.3 301.2L1430.1 307.0L1430.9 310.9L1431.7 312.2L1432.5 311.4L1433.3 308.8L1434.1 304.9L1434.9 300.0L1435.7 294.6L1436.5 289.3L1437.3 284.6L1438.1 280.9L1438.9 278.7L1439.7 278.2L1440.5 280.1L1441.3 284.5L1442.1 290.6L1442.9 297.5L1443.7 304.0L1444.5 309.0L1445.3 311.8L1446.1 312.1L1446.9 310.4L1447.7 307.2L1448.5 302.8L1449.3 297.6L1450.1 292.2L1450.9 287.1L1451.7 282.8L1452.5 279.7L1453.3 278.3L1454.1 278.7L1454.9 281.8L1455.7 287.0L1456.5 293.6L1457.3 300.5L1458.1 306.5L1458.9 310.6L1459.7 312.2L1460.5 311.5L1461.3 309.2L1462.1 305.4L1462.9 300.6L1463.7 295.2L1464.5 289.8L1465.3 285.0L1466.1 281.2L1466.9 278.9L1467.7 278.1L1468.5 279.8L1469.3 283.9L1470.1 289.9L1470.9 296.8L1471.7 303.3L1472.5 308.6L1473.3 311.7L1474.1 312.2L1474.9 310.7L1475.7 307.6L1476.5 303.3L1477.3 298.2L1478.1 292.8L1478.9 287.6L1479.7 283.2L1480.5 280.0L1481.3 278.3L1482.1 278.5L1482.9 281.3L1483.7 286.4L1484.5 292.9L1485.3 299.8L1486.1 305.9L1486.9 310.3L1487.7 312.2L1488.5 311.7L1489.3 309.5L1490.1 305.8L1490.9 301.1L1491.7 295.8L1492.5 290.4L1493.3 285.5L1494.1 281.6L1494.9 279.0L1495.7 278.1L1496.5 279.5L1497.3 283.4L1498.1 289.2L1498.9 296.0L1499.7 302.7L1500.5 308.2L1501.3 311.5L1502.1 312.2L1502.9 310.9L1503.7 308.0L1504.5 303.8L1505.3 298.8L1506.1 293.3L1506.9 288.1L1507.7 283.6L1508.5 280.2L1509.3 278.4L1510.1 278.4L1510.9 280.9L1511.7 285.8L1512.5 292.2L1513.3 299.1L1514.1 305.4L1514.9 310.0L1515.7 312.2L1516.5 311.9L1517.3 309.8L1518.1 306.3L1518.9 301.6L1519.7 296.3L1520.5 290.9L1521.3 285.9L1522.1 281.9L1522.9 279.2L1523.7 278.1L1524.5 279.2L1525.3 282.9L1526.1 288.5L1526.9 295.3L1527.7 302.1L1528.5 307.7L1529.3 311.3L1530.1 312.3L1530.9 311.1L1531.7 308.4L1532.5 304.3L1533.3 299.3L1534.1 293.9L1534.9 288.6L1535.7 284.0L1536.5 280.5L1537.3 278.5L1538.1 278.2L1538.9 280.5L1539.7 285.2L1540.5 291.5L1541.3 298.4L1542.1 304.8L1542.9 309.6L1543.7 312.1L1544.5 312.0L1545.3 310.1L1546.1 306.7L1546.9 302.2L1547.7 296.9L1548.5 291.5L1549.3 286.4L1550.1 282.2L1550.9 279.4L1551.7 278.1L1552.5 278.9L1553.3 282.4L1554.1 287.9L1554.9 294.6L1555.7 301.4L1556.5 307.2L1557.3 311.1L1558.1 312.3L1558.9 311.4L1559.7 308.8L1560.5 304.8L1561.3 299.9L1562.1 294.4L1562.9 289.1L1563.7 284.4L1564.5 280.8L1565.3 278.6L1566.1 278.2L1566.9 280.2L1567.7 284.6L1568.5 290.8L1569.3 297.7L1570.1 304.2L1570.9 309.2L1571.7 312.0L1572.5 312.1L1573.3 310.4L1574.1 307.1L1574.9 302.7L1575.7 297.5L1576.5 292.0L1577.3 286.9L1578.1 282.6L1578.9 279.6L1579.7 278.2L1580.5 278.7L1581.3 281.9L1582.1 287.2L1582.9 293.9L1583.7 300.8L1584.5 306.7L1585.3 310.8L1586.1 312.3L1586.9 311.5L1587.7 309.1L1588.5 305.3L1589.3 300.4L1590.1 295.0L1590.9 289.6L1591.7 284.8L1592.5 281.1L1593.3 278.7L1594.1 278.1L1594.9 279.8L1595.7 284.1L1596.5 290.1L1597.3 297.0L1598.1 303.6L1598.9 308.8L1599.7 311.8L1600.5 312.2L1601.3 310.7L1602.1 307.5L1602.9 303.2L1603.7 298.0L1604.5 292.6L1605.3 287.4L1606.1 283.0L1606.9 279.8L1607.7 278.2L1608.5 278.5L1609.3 281.4L1610.1 286.6L1610.9 293.2L1611.7 300.1L1612.5 306.2L1613.3 310.5L1614.1 312.3L1614.9 311.7L1615.7 309.4L1616.5 305.7L1617.3 300.9L1618.1 295.6L1618.9 290.2L1619.7 285.3L1620.5 281.4L1621.3 278.9L1622.1 278.0L1622.9 279.5L1623.7 283.5L1624.5 289.4L1625.3 296.3L1626.1 303.0L1626.9 308.4L1627.7 311.7L1628.5 312.3L1629.3 310.9L1630.1 307.9L1630.9 303.7L1631.7 298.6L1632.5 293.1L1633.3 287.9L1634.1 283.4L1634.9 280.1L1635.7 278.3L1636.5 278.3" stroke-width="3.1"/>
<path d="M757.7 462.2L760.1 462.2L759.9 416.0L761.7 470.0L765.3 509.0L766.1 506.2L766.9 498.3L767.7 486.5L768.5 472.6L769.3 458.7L770.0 446.9L770.8 439.0L771.6 436.2L772.4 438.2L773.1 444.0L773.8 452.9L774.5 463.7L775.3 475.3L776.0 486.1L776.7 495.0L777.5 500.8L778.2 502.8L779.0 500.9L779.8 495.5L780.6 487.2L781.4 476.6L782.2 464.9L783.0 453.2L783.7 442.6L784.5 434.2L785.3 428.8L786.1 427.0L787.0 430.1L787.9 438.2L788.8 450.0L789.7 463.6L790.6 476.7L791.5 487.3L792.4 493.7L793.3 495.1L794.2 491.5L795.1 483.2L796.0 471.5L796.9 458.2L797.8 445.5L798.7 435.3L799.6 429.4L800.5 428.8L801.4 433.5L802.3 442.8L803.2 455.3L804.1 469.0L805.0 481.7L805.9 491.3L806.8 496.3L807.7 495.8L808.6 489.9L809.5 479.5L810.4 466.4L811.3 452.6L812.2 440.4L813.1 431.6L814.0 427.7L814.9 429.4L815.8 436.3L816.7 447.3L817.6 460.7L818.5 474.4L819.4 486.1L820.3 494.0L821.2 496.8L822.1 494.1L823.0 486.2L823.9 474.5L824.8 460.9L825.7 447.4L826.6 436.4L827.5 429.4L828.4 427.7L829.3 431.5L830.2 440.2L831.1 452.5L832.0 466.3L832.9 479.4L833.8 489.8L834.7 495.8L835.6 496.4L836.5 491.5L837.4 481.9L838.3 469.2L839.2 455.4L840.1 442.6L841.0 433.0L841.9 428.1L842.8 428.6L843.7 434.5L844.6 444.8L845.5 457.9L846.4 471.7L847.3 484.0L848.2 492.8L849.1 496.7L850.0 495.1L850.9 488.2L851.8 477.2L852.7 463.7L853.6 450.1L854.5 438.3L855.4 430.4L856.3 427.6L857.2 430.3L858.1 438.1L859.0 449.8L859.9 463.4L860.8 476.9L861.7 488.0L862.6 495.0L863.5 496.7L864.4 492.9L865.3 484.2L866.2 472.0L867.1 458.2L868.0 445.0L868.9 434.6L869.8 428.6L870.7 428.0L871.6 432.9L872.5 442.4L873.4 455.1L874.3 468.9L875.2 481.7L876.1 491.3L877.0 496.3L877.9 495.8L878.8 490.0L879.7 479.7L880.6 466.6L881.5 452.8L882.4 440.5L883.3 431.7L884.2 427.7L885.1 429.3L886.0 436.2L886.9 447.2L887.8 460.6L888.7 474.3L889.6 486.0L890.5 493.9L891.4 496.8L892.3 494.1L893.2 486.3L894.1 474.7L895.0 461.0L895.9 447.6L896.8 436.5L897.7 429.5L898.6 427.7L899.5 431.5L900.4 440.1L901.3 452.3L902.2 466.1L903.1 479.3L904.0 489.7L904.9 495.7L905.8 496.4L906.7 491.6L907.6 482.1L908.5 469.4L909.4 455.5L910.3 442.8L911.2 433.1L912.1 428.1L913.0 428.5L913.9 434.4L914.8 444.7L915.7 457.8L916.6 471.6L917.5 483.9L918.4 492.7L919.3 496.7L920.2 495.1L921.1 488.3L922.0 477.3L922.9 463.9L923.8 450.2L924.7 438.4L925.6 430.5L926.5 427.6L927.4 430.3L928.3 438.0L929.2 449.7L930.1 463.3L931.0 476.8L931.9 487.9L932.8 494.9L933.7 496.6L934.6 492.8L935.5 484.1L936.4 472.0L937.3 458.4L938.2 445.4L939.1 435.2L940.0 429.4L940.9 428.9L941.8 433.7L942.7 443.0L943.6 455.3L944.5 468.5L945.4 480.6L946.3 489.7L947.2 494.3L948.1 493.7L949.0 488.2L949.9 478.5L950.8 466.4L951.7 453.7L952.6 442.5L953.5 434.5L954.4 431.2L955.3 432.9L956.2 439.1L957.1 449.0L958.0 460.7L958.9 472.4L959.8 482.3L960.7 488.8L961.6 491.0L962.5 488.5L963.4 482.0L964.3 472.4L965.2 461.4L966.1 450.7L967.0 442.1L967.9 436.9L968.8 435.8L969.7 438.9L970.6 445.6L971.5 454.8L972.4 465.0L973.3 474.5L974.2 481.8L975.1 485.9L976.0 486.1L976.9 482.5L977.8 475.8L978.7 467.1L979.6 457.9L980.5 449.5L981.4 443.4L982.3 440.3L983.2 440.7L984.1 444.6L985.0 451.2L985.9 459.4L986.8 467.9L987.7 475.3L988.6 480.5L989.5 482.7L990.4 481.6L991.3 477.5L992.2 471.0L993.1 463.2L994.0 455.5L994.9 449.0L995.8 444.6L996.7 443.1L997.6 444.6L998.5 448.9L999.4 455.3L1000.3 462.7L1001.2 469.9L1002.1 475.9L1003.0 479.5L1003.9 480.4L1004.8 478.4L1005.7 473.8L1006.6 467.4L1007.5 460.3L1008.4 453.6L1009.3 448.3L1010.2 445.2L1011.1 444.9L1012.0 447.3L1012.9 452.1L1013.8 458.5L1014.7 465.4L1015.6 471.9L1016.5 476.7L1017.4 479.2L1018.3 479.0L1019.2 476.1L1020.1 471.0L1021.0 464.5L1021.9 457.7L1022.8 451.6L1023.7 447.2L1024.6 445.2L1025.5 446.0L1026.4 449.3L1027.3 454.7L1028.2 461.3L1029.1 468.0L1030.0 473.8L1030.9 477.7L1031.8 479.2L1032.7 477.9L1033.6 474.2L1034.5 468.5L1035.4 461.8L1036.3 455.1L1037.2 449.6L1038.1 446.2L1039.0 445.2L1039.9 447.0L1040.8 451.2L1041.7 457.2L1042.6 464.0L1043.5 470.5L1044.4 475.6L1045.3 478.6L1046.2 479.0L1047.1 476.7L1048.0 472.1L1048.9 465.9L1049.8 459.1L1050.7 452.8L1051.6 448.0L1052.5 445.5L1053.4 445.6L1054.3 448.4L1055.2 453.5L1056.1 459.9L1057.0 466.7L1057.9 472.7L1058.8 477.1L1059.7 479.1L1060.6 478.4L1061.5 475.1L1062.4 469.7L1063.3 463.2L1064.2 456.4L1065.1 450.6L1066.0 446.7L1066.9 445.2L1067.8 446.5L1068.7 450.2L1069.6 455.9L1070.5 462.6L1071.4 469.2L1072.3 474.7L1073.2 478.2L1074.1 479.2L1075.0 477.4L1075.9 473.2L1076.8 467.2L1077.7 460.4L1078.6 454.0L1079.5 448.8L1080.4 445.8L1081.3 445.4L1082.2 447.7L1083.1 452.3L1084.0 458.5L1084.9 465.3L1085.8 471.6L1086.7 476.4L1087.6 478.9L1088.5 478.8L1089.4 476.0L1090.3 471.0L1091.2 464.6L1092.1 457.8L1093.0 451.7L1093.9 447.3L1094.8 445.3L1095.7 446.0L1096.6 449.3L1097.5 454.6L1098.4 461.2L1099.3 467.9L1100.2 473.7L1101.1 477.7L1102.0 479.2L1102.9 478.0L1103.8 474.2L1104.7 468.5L1105.6 461.8L1106.5 455.2L1107.4 449.7L1108.3 446.2L1109.2 445.2L1110.1 447.0L1111.0 451.2L1111.9 457.2L1112.8 463.9L1113.7 470.4L1114.6 475.6L1115.5 478.6L1116.4 479.0L1117.3 476.7L1118.2 472.1L1119.1 465.9L1120.0 459.1L1120.9 452.8L1121.8 448.0L1122.7 445.5L1123.6 445.6L1124.5 448.4L1125.4 453.4L1126.3 459.8L1127.2 466.6L1128.1 472.7L1129.0 477.1L1129.9 479.1L1130.8 478.4L1131.7 475.2L1132.6 469.8L1133.5 463.2L1134.4 456.5L1135.3 450.7L1136.2 446.7L1137.1 445.2L1138.0 446.4L1138.9 450.2L1139.8 455.8L1140.7 462.5L1141.6 469.2L1142.5 474.7L1143.4 478.2L1144.3 479.2L1145.2 477.4L1146.1 473.2L1147.0 467.3L1147.9 460.5L1148.8 454.0L1149.7 448.8L1150.6 445.8L1151.5 445.4L1152.4 447.6L1153.3 452.2L1154.2 458.4L1155.1 465.2L1156.0 471.5L1156.9 476.4L1157.8 478.9L1158.7 478.8L1159.6 476.0L1160.5 471.0L1161.4 464.6L1162.3 457.8L1163.2 451.7L1164.1 447.3L1165.0 445.3L1165.9 446.0L1166.8 449.2L1167.7 454.6L1168.6 461.1L1169.5 467.9L1170.4 473.7L1171.3 477.7L1172.2 479.2L1173.1 478.0L1174.0 474.3L1174.9 468.6L1175.8 461.9L1176.7 455.3L1177.6 449.7L1178.5 446.2L1179.4 445.2L1180.3 447.0L1181.2 451.1L1182.1 457.1L1183.0 463.8L1183.9 470.3L1184.8 475.5L1185.7 478.6L1186.6 479.0L1187.5 476.8L1188.4 472.2L1189.3 466.0L1190.2 459.2L1191.1 452.9L1192.0 448.1L1192.9 445.5L1193.8 445.6L1194.7 448.4L1195.6 453.3L1196.5 459.7L1197.4 466.5L1198.3 472.6L1199.2 477.1L1200.1 479.1L1201.0 478.5L1201.9 475.2L1202.8 469.9L1203.7 463.3L1204.6 456.6L1205.5 450.7L1206.4 446.7L1207.3 445.2L1208.2 446.4L1209.1 450.1L1210.0 455.8L1210.9 462.5L1211.8 469.1L1212.7 474.6L1213.6 478.2L1214.5 479.2L1215.4 477.5L1216.3 473.3L1217.2 467.3L1218.1 460.6L1219.0 454.1L1219.9 448.9L1220.8 445.8L1221.7 445.4L1222.6 447.6L1223.5 452.2L1224.4 458.4L1225.3 465.2L1226.2 471.5L1227.1 476.3L1228.0 478.9L1228.9 478.8L1229.8 476.1L1230.7 471.1L1231.6 464.7L1232.5 457.9L1233.4 451.8L1234.3 447.4L1235.2 445.3L1236.1 445.9L1237.0 449.2L1237.9 454.5L1238.8 461.1L1239.7 467.8L1240.6 473.6L1241.5 477.7L1242.4 479.2L1243.3 478.0L1244.2 474.3L1245.1 468.7L1246.0 462.0L1246.9 455.3L1247.8 449.8L1248.7 446.2L1249.6 445.2L1250.5 446.9L1251.4 451.1L1252.3 457.0L1253.2 463.8L1254.1 470.3L1255.0 475.5L1255.9 478.6L1256.8 479.0L1257.7 476.8L1258.6 472.2L1259.5 466.1L1260.4 459.3L1261.2 452.9L1262.1 448.1L1263.0 445.5L1263.9 445.6L1264.8 448.3L1265.7 453.3L1266.6 459.7L1267.5 466.5L1268.4 472.6L1269.3 477.0L1270.2 479.1L1271.1 478.5L1272.0 475.2L1272.9 469.9L1273.8 463.4L1274.7 456.6L1275.6 450.8L1276.5 446.8L1277.4 445.2L1278.3 446.4L1279.2 450.1L1280.1 455.7L1281.0 462.4L1281.9 469.0L1282.8 474.6L1283.7 478.2L1284.6 479.2L1285.5 477.5L1286.4 473.3L1287.3 467.4L1288.2 460.7L1289.1 454.1L1290.0 448.9L1290.9 445.8L1291.8 445.3L1292.7 447.6L1293.6 452.1L1294.5 458.3L1295.4 465.1L1296.3 471.4L1297.2 476.3L1298.1 478.9L1299.0 478.8L1299.9 476.1L1300.8 471.1L1301.7 464.8L1302.6 458.0L1303.5 451.9L1304.4 447.4L1305.3 445.3L1306.2 445.9L1307.1 449.1L1308.0 454.4L1308.9 461.0L1309.8 467.7L1310.7 473.6L1311.6 477.6L1312.5 479.2L1313.4 478.0L1314.3 474.4L1315.2 468.7L1316.1 462.1L1317.0 455.4L1317.9 449.8L1318.8 446.3L1319.7 445.2L1320.6 446.9L1321.5 451.0L1322.4 457.0L1323.3 463.7L1324.2 470.2L1325.1 475.5L1326.0 478.6L1326.9 479.1L1327.8 476.9L1328.7 472.3L1329.6 466.1L1330.5 459.3L1331.4 453.0L1332.3 448.1L1333.2 445.5L1334.1 445.6L1335.0 448.3L1335.9 453.2L1336.8 459.6L1337.7 466.4L1338.6 472.5L1339.5 477.0L1340.4 479.1L1341.3 478.5L1342.2 475.3L1343.1 470.0L1344.0 463.4L1344.9 456.7L1345.8 450.8L1346.7 446.8L1347.6 445.2L1348.5 446.3L1349.4 450.0L1350.3 455.6L1351.2 462.3L1352.1 469.0L1353.0 474.5L1353.9 478.1L1354.8 479.2L1355.7 477.5L1356.6 473.4L1357.5 467.5L1358.4 460.7L1359.3 454.2L1360.2 449.0L1361.1 445.8L1362.0 445.3L1362.9 447.5L1363.8 452.1L1364.7 458.2L1365.6 465.0L1366.5 471.4L1367.4 476.2L1368.3 478.9L1369.2 478.8L1370.1 476.1L1371.0 471.2L1371.9 464.8L1372.8 458.0L1373.7 451.9L1374.6 447.4L1375.5 445.3L1376.4 445.9L1377.3 449.1L1378.2 454.4L1379.1 460.9L1380.0 467.7L1380.9 473.5L1381.8 477.6L1382.7 479.2L1383.6 478.1L1384.5 474.4L1385.4 468.8L1386.3 462.1L1387.2 455.5L1388.1 449.9L1389.0 446.3L1389.9 445.2L1390.8 446.9L1391.7 451.0L1392.6 456.9L1393.5 463.6L1394.4 470.2L1395.3 475.4L1396.2 478.5L1397.1 479.1L1398.0 476.9L1398.9 472.4L1399.8 466.2L1400.7 459.4L1401.6 453.1L1402.5 448.2L1403.4 445.5L1404.3 445.6L1405.2 448.2L1406.1 453.2L1407.0 459.5L1407.9 466.3L1408.8 472.5L1409.7 476.9L1410.6 479.1L1411.5 478.5L1412.4 475.3L1413.3 470.1L1414.2 463.5L1415.1 456.8L1416.0 450.9L1416.9 446.8L1417.8 445.2L1418.7 446.3L1419.6 450.0L1420.5 455.6L1421.4 462.2L1422.3 468.9L1423.2 474.5L1424.1 478.1L1425.0 479.2L1425.9 477.5L1426.8 473.4L1427.7 467.6L1428.6 460.8L1429.5 454.3L1430.4 449.0L1431.3 445.9L1432.2 445.3L1433.1 447.5L1434.0 452.0L1434.9 458.2L1435.8 465.0L1436.7 471.3L1437.6 476.2L1438.5 478.9L1439.4 478.9L1440.3 476.2L1441.2 471.3L1442.1 464.9L1443.0 458.1L1443.9 452.0L1444.8 447.5L1445.7 445.3L1446.6 445.9L1447.5 449.0L1448.4 454.3L1449.3 460.8L1450.2 467.6L1451.1 473.5L1452.0 477.6L1452.9 479.2L1453.8 478.1L1454.7 474.5L1455.6 468.9L1456.5 462.2L1457.4 455.5L1458.3 449.9L1459.2 446.3L1460.1 445.2L1461.0 446.8L1461.9 450.9L1462.8 456.8L1463.7 463.6L1464.6 470.1L1465.5 475.4L1466.4 478.5L1467.3 479.1L1468.2 476.9L1469.1 472.4L1470.0 466.3L1470.9 459.5L1471.8 453.1L1472.7 448.2L1473.6 445.5L1474.5 445.5L1475.4 448.2L1476.3 453.1L1477.2 459.5L1478.1 466.3L1479.0 472.4L1479.9 476.9L1480.8 479.1L1481.7 478.5L1482.6 475.4L1483.5 470.1L1484.4 463.6L1485.3 456.8L1486.2 450.9L1487.1 446.9L1488.0 445.2L1488.9 446.3L1489.8 449.9L1490.7 455.5L1491.6 462.2L1492.5 468.8L1493.4 474.4L1494.3 478.1L1495.2 479.2L1496.1 477.6L1497.0 473.5L1497.9 467.6L1498.8 460.9L1499.7 454.3L1500.6 449.1L1501.5 445.9L1502.4 445.3L1503.3 447.5L1504.2 452.0L1505.1 458.1L1506.0 464.9L1506.9 471.2L1507.8 476.2L1508.7 478.8L1509.6 478.9L1510.5 476.2L1511.4 471.3L1512.3 465.0L1513.2 458.2L1514.1 452.0L1515.0 447.5L1515.9 445.3L1516.8 445.9L1517.7 449.0L1518.6 454.2L1519.5 460.8L1520.4 467.5L1521.3 473.4L1522.2 477.5L1523.1 479.2L1524.0 478.1L1524.9 474.5L1525.8 468.9L1526.7 462.3L1527.6 455.6L1528.5 450.0L1529.4 446.3L1530.3 445.2L1531.2 446.8L1532.1 450.9L1533.0 456.7L1533.9 463.5L1534.8 470.0L1535.7 475.3L1536.6 478.5L1537.5 479.1L1538.4 477.0L1539.3 472.5L1540.2 466.3L1541.1 459.6L1542.0 453.2L1542.9 448.3L1543.8 445.6L1544.7 445.5L1545.6 448.2L1546.5 453.0L1547.4 459.4L1548.3 466.2L1549.2 472.3L1550.1 476.9L1551.0 479.1L1551.9 478.6L1552.8 475.4L1553.7 470.2L1554.6 463.7L1555.5 456.9L1556.4 451.0L1557.3 446.9L1558.2 445.2L1559.1 446.3L1560.0 449.9L1560.9 455.4L1561.8 462.1L1562.7 468.8L1563.6 474.4L1564.5 478.1L1565.4 479.2L1566.3 477.6L1567.2 473.6L1568.1 467.7L1569.0 460.9L1569.9 454.4L1570.8 449.1L1571.7 445.9L1572.6 445.3L1573.5 447.4L1574.4 451.9L1575.3 458.0L1576.2 464.8L1577.1 471.2L1578.0 476.1L1578.9 478.8L1579.8 478.9L1580.7 476.3L1581.6 471.4L1582.5 465.0L1583.4 458.3L1584.3 452.1L1585.2 447.5L1586.1 445.3L1587.0 445.8L1587.9 449.0L1588.8 454.2L1589.7 460.7L1590.6 467.5L1591.5 473.4L1592.4 477.5L1593.3 479.2L1594.2 478.1L1595.1 474.6L1596.0 469.0L1596.9 462.3L1597.8 455.7L1598.7 450.0L1599.6 446.4L1600.5 445.2L1601.4 446.8L1602.3 450.8L1603.2 456.7L1604.1 463.4L1605.0 470.0L1605.9 475.3L1606.8 478.5L1607.7 479.1L1608.6 477.0L1609.5 472.5L1610.4 466.4L1611.3 459.6L1612.2 453.2L1613.1 448.3L1614.0 445.6L1614.9 445.5L1615.8 448.1L1616.7 453.0L1617.6 459.3L1618.5 466.1L1619.4 472.3L1620.3 476.8L1621.2 479.1L1622.1 478.6L1623.0 475.5L1623.9 470.2L1624.8 463.7L1625.7 457.0L1626.6 451.1L1627.5 446.9L1628.4 445.2L1629.3 446.2L1630.2 449.8L1631.1 455.4L1632.0 462.0L1632.9 468.7L1633.8 474.3L1634.7 478.0L1635.6 479.2L1636.5 477.6" stroke-width="2.45"/>
<path d="M236.0 633.5L243.0 633.5L245.5 631.0L247.5 630.5L248.2 631.4L248.9 633.9L249.7 637.4L250.4 640.8L251.1 643.3L251.8 644.2L252.5 643.3L253.3 640.8L254.0 636.8L254.7 632.0L255.4 626.8L256.1 622.0L256.8 618.0L257.5 615.4L258.3 614.6L259.0 615.9L259.8 619.8L260.6 625.7L261.4 633.0L262.1 640.8L262.9 648.1L263.7 654.0L264.5 657.9L265.2 659.3L266.0 657.5L266.8 652.4L267.5 644.6L268.3 635.0L269.1 624.8L269.9 615.3L270.6 607.5L271.4 602.4L272.2 600.6L273.0 602.7L273.7 608.9L274.5 618.2L275.3 629.7L276.1 641.9L276.8 653.4L277.6 662.8L278.4 668.9L279.2 671.0L279.9 668.7L280.7 661.9L281.5 651.6L282.3 638.8L283.0 625.3L283.8 612.6L284.6 602.2L285.4 595.5L286.1 593.1L286.9 595.5L287.7 602.5L288.4 613.3L289.2 626.4L290.0 640.4L290.8 653.6L291.5 664.3L292.3 671.3L293.1 673.7L293.9 671.3L294.6 664.4L295.4 653.8L296.2 640.9L297.0 627.0L297.7 614.1L298.5 603.5L299.3 596.6L300.1 594.2L300.8 596.5L301.6 603.0L302.4 613.0L303.2 625.3L303.9 638.3L304.7 650.6L305.5 660.6L306.3 667.2L307.0 669.4L307.8 667.3L308.6 661.1L309.3 651.6L310.1 639.9L310.9 627.5L311.7 615.8L312.4 606.3L313.2 600.1L314.0 597.9L314.8 600.0L315.5 605.8L316.3 614.7L317.1 625.7L317.9 637.4L318.6 648.3L319.4 657.3L320.2 663.1L321.0 665.1L321.7 663.2L322.5 657.7L323.3 649.3L324.1 638.9L324.8 627.9L325.6 617.6L326.4 609.1L327.2 603.6L327.9 601.7L328.7 603.5L329.5 608.7L330.2 616.8L331.0 626.6L331.8 637.0L332.6 646.9L333.3 654.9L334.1 660.1L334.9 661.9L335.6 660.5L336.4 656.5L337.1 650.3L337.9 642.4L338.6 633.7L339.4 625.0L340.1 617.1L340.9 610.8L341.6 606.8L342.4 605.4L343.2 607.1L343.9 611.7L344.7 618.9L345.5 627.7L346.3 637.0L347.0 645.8L347.8 653.0L348.6 657.6L349.4 659.3L350.1 657.7L350.9 653.3L351.7 646.5L352.5 638.1L353.2 629.2L354.0 620.9L354.8 614.1L355.6 609.7L356.3 608.1L357.1 609.6L357.9 613.8L358.7 620.2L359.4 628.1L360.2 636.6L361.0 644.5L361.7 650.9L362.5 655.1L363.3 656.6L364.0 655.4L364.8 652.1L365.5 647.0L366.3 640.6L367.0 633.4L367.8 626.3L368.5 619.8L369.3 614.7L370.0 611.4L370.8 610.3L371.5 611.6L372.2 615.4L372.9 621.2L373.7 628.3L374.4 635.9L375.1 643.0L375.8 648.8L376.5 652.6L377.2 653.9L378.0 652.8L378.7 649.8L379.5 645.1L380.2 639.2L381.0 632.6L381.7 626.0L382.5 620.1L383.2 615.4L384.0 612.4L384.7 611.3L385.6 613.1L386.5 618.2L387.4 625.6L388.3 634.3L389.2 642.9L390.1 649.9L391.0 654.3L391.9 655.3L392.8 652.9L393.7 647.4L394.6 639.7L395.5 631.0L396.4 622.8L397.3 616.3L398.2 612.5L399.1 612.1L400.0 615.1L400.9 621.1L401.8 629.0L402.7 637.6L403.6 645.6L404.5 651.7L405.4 655.0L406.3 654.8L407.2 651.3L408.1 644.8L409.0 636.5L409.9 627.7L410.8 619.6L411.7 613.8L412.6 611.1L413.5 611.9L414.4 616.2L415.3 623.3L416.2 632.1L417.1 641.2L418.0 649.2L418.9 654.7L419.8 656.8L420.7 655.3L421.6 650.2L422.5 642.4L423.4 633.1L424.3 623.9L425.2 616.0L426.1 610.9L427.0 609.4L427.9 611.8L428.8 617.6L429.7 626.0L430.6 635.7L431.5 645.1L432.4 652.8L433.3 657.3L434.1 658.2L435.0 655.0L435.9 648.4L436.8 639.4L437.7 629.3L438.6 619.8L439.5 612.5L440.4 608.5L441.3 608.4L442.2 612.4L443.1 619.8L444.0 629.4L444.9 639.8L445.8 649.1L446.7 656.0L447.6 659.4L448.5 658.5L449.4 653.7L450.3 645.7L451.2 635.7L452.1 625.3L453.0 616.2L453.9 609.9L454.8 607.3L455.7 609.0L456.6 614.5L457.5 623.1L458.4 633.3L459.3 643.6L460.2 652.3L461.1 658.0L462.0 659.8L462.9 657.4L463.8 651.2L464.7 642.1L465.6 631.7L466.5 621.5L467.4 613.3L468.3 608.2L469.2 607.2L470.1 610.4L471.0 617.3L471.9 626.7L472.8 637.3L473.7 647.3L474.6 655.0L475.5 659.3L476.4 659.5L477.3 655.5L478.2 648.1L479.1 638.3L480.0 627.7L480.9 618.2L481.8 611.0L482.7 607.5L483.6 608.1L484.5 612.8L485.4 620.7L486.3 630.7L487.2 641.1L488.1 650.3L489.0 656.8L489.9 659.6L490.8 658.2L491.7 652.8L492.5 644.4L493.4 634.3L494.3 624.0L495.2 615.3L496.1 609.5L497.0 607.5L497.9 609.7L498.8 615.6L499.7 624.4L500.6 634.7L501.5 644.7L502.4 652.9L503.3 658.0L504.2 659.2L505.1 656.3L506.0 649.8L506.9 640.6L507.8 630.4L508.7 620.6L509.6 613.0L510.5 608.6L511.4 608.1L512.3 611.8L513.2 618.9L514.1 628.3L515.0 638.5L515.9 647.9L516.8 655.0L517.7 658.7L518.6 658.3L519.5 654.0L520.4 646.4L521.3 636.8L522.2 626.6L523.1 617.6L524.0 611.1L524.9 608.2L525.8 609.3L526.7 614.3L527.6 622.4L528.5 632.2L529.4 642.2L530.3 650.8L531.2 656.6L532.1 658.8L533.0 656.9L533.9 651.3L534.8 642.9L535.7 632.9L536.6 623.1L537.5 614.9L538.4 609.7L539.3 608.2L540.2 610.9L541.1 617.1L542.0 625.9L542.9 636.0L543.8 645.6L544.7 653.4L545.6 657.9L546.5 658.6L547.4 655.2L548.3 648.4L549.2 639.2L550.1 629.1L551.0 619.7L551.8 612.5L552.7 608.7L553.6 608.8L554.5 612.8L555.4 620.2L556.3 629.7L557.2 639.8L558.1 648.9L559.0 655.5L559.9 658.6L560.8 657.8L561.7 653.0L562.6 645.1L563.5 635.4L564.4 625.4L565.3 616.7L566.2 610.6L567.1 608.2L568.0 609.9L568.9 615.3L569.8 623.6L570.7 633.5L571.6 643.4L572.5 651.7L573.4 657.1L574.3 658.8L575.2 656.4L576.1 650.3L577.0 641.6L577.9 631.6L578.8 621.9L579.7 614.0L580.6 609.2L581.5 608.4L582.4 611.5L583.3 618.1L584.2 627.2L585.1 637.3L586.0 646.8L586.9 654.2L587.8 658.2L588.7 658.3L589.6 654.5L590.5 647.3L591.4 637.9L592.3 627.8L593.2 618.6L594.1 611.8L595.0 608.4L595.9 609.1L596.8 613.6L597.7 621.4L598.6 631.0L599.5 641.1L600.4 649.9L601.3 656.1L602.2 658.8L603.1 657.3L604.0 652.1L604.9 643.9L605.8 634.1L606.7 624.1L607.6 615.7L608.5 610.1L609.4 608.2L610.2 610.4L611.1 616.2L612.0 624.8L612.9 634.8L613.8 644.6L614.7 652.6L615.6 657.6L616.5 658.7L617.4 655.8L618.3 649.3L619.2 640.3L620.1 630.2L621.0 620.7L621.9 613.2L622.8 608.9L623.7 608.6L624.6 612.2L625.5 619.2L626.4 628.5L627.3 638.6L628.2 647.9L629.1 654.9L630.0 658.5L630.9 658.1L631.8 653.7L632.7 646.2L633.6 636.6L634.5 626.5L635.4 617.5L636.3 611.1L637.2 608.3L638.1 609.5L639.0 614.5L639.9 622.5L640.8 632.3L641.7 642.3L642.6 650.9L643.5 656.7L644.4 658.8L645.3 656.9L646.2 651.2L647.1 642.7L648.0 632.7L648.9 622.9L649.8 614.7L650.7 609.6L651.6 608.3L652.5 610.9L653.4 617.2L654.3 626.1L655.2 636.2L656.1 645.8L657.0 653.5L657.9 658.0L658.8 658.5L659.7 655.1L660.6 648.2L661.5 639.0L662.4 628.9L663.3 619.5L664.2 612.4L665.1 608.6L666.0 608.8L666.9 612.9L667.8 620.4L668.6 629.9L669.5 640.0L670.4 649.0L671.3 655.6L672.2 658.7L673.1 657.7L674.0 652.9L674.9 645.0L675.8 635.2L676.7 625.2L677.6 616.5L678.5 610.5L679.4 608.2L680.3 609.9L681.2 615.4L682.1 623.8L683.0 633.7L683.9 643.6L684.8 651.9L685.7 657.2L686.6 658.8L687.5 656.3L688.4 650.2L689.3 641.4L690.2 631.4L691.1 621.7L692.0 613.9L692.9 609.2L693.8 608.4L694.7 611.6L695.6 618.3L696.5 627.4L697.4 637.5L698.3 647.0L699.2 654.3L700.1 658.3L701.0 658.3L701.9 654.4L702.8 647.1L703.7 637.7L704.6 627.6L705.5 618.4L706.4 611.7L707.3 608.4L708.2 609.1L709.1 613.8L710.0 621.5L710.9 631.2L711.8 641.2L712.7 650.1L713.6 656.2L714.5 658.8L715.4 657.3L716.3 652.0L717.2 643.8L718.1 633.9L719.0 624.0L719.9 615.5L720.8 610.0L721.7 608.2L722.6 610.5L723.5 616.4L724.4 625.0L725.3 635.0L726.2 644.8L727.1 652.8L727.9 657.6L728.8 658.7L729.7 655.7L730.6 649.2L731.5 640.1L732.4 630.1L733.3 620.5L734.2 613.1L735.1 608.9L736.0 608.6L736.9 612.3L737.8 619.4L738.7 628.7L739.6 638.8L740.5 648.1L741.4 655.0L742.3 658.5L743.2 658.0L744.1 653.6L745.0 646.0L745.9 636.4L746.8 626.3L747.7 617.4L748.6 611.0L749.5 608.3L750.4 609.5L751.3 614.6L752.2 622.7L753.1 632.5L754.0 642.5L754.9 651.0L755.8 656.8L756.7 658.8L757.4 657.1L758.0 652.5L758.7 646.8L759.3 642.2L760.0 640.5L760.8 641.4L761.5 643.9L762.3 647.2L763.1 650.6L763.8 653.1L764.6 654.0L765.3 652.6L766.0 648.4L766.8 642.1L767.5 634.4L768.2 626.1L768.9 618.4L769.7 612.1L770.4 607.9L771.1 606.5L772.0 608.7L772.9 614.8L773.8 623.9L774.7 634.6L775.6 645.1L776.5 653.7L777.4 659.1L778.3 660.4L779.2 657.4L780.1 650.6L781.0 641.1L781.9 630.3L782.8 620.1L783.7 612.0L784.6 607.3L785.5 606.8L786.4 610.6L787.3 618.1L788.2 628.0L789.1 638.8L790.0 648.7L790.9 656.3L791.8 660.1L792.7 659.7L793.6 655.2L794.5 647.1L795.4 636.9L796.3 626.1L797.2 616.5L798.1 609.7L799.0 606.6L799.9 607.8L800.8 613.2L801.7 621.8L802.6 632.2L803.5 642.9L804.4 652.1L805.3 658.3L806.2 660.5L807.1 658.4L808.0 652.3L808.9 643.3L809.8 632.6L810.7 622.1L811.6 613.4L812.5 608.0L813.4 606.6L814.3 609.5L815.2 616.2L816.1 625.7L817.0 636.5L817.9 646.8L818.8 654.9L819.7 659.6L820.6 660.2L821.5 656.5L822.4 649.1L823.3 639.2L824.2 628.4L825.1 618.4L826.0 610.9L826.9 606.9L827.8 607.2L828.7 611.7L829.6 619.7L830.5 629.9L831.4 640.7L832.3 650.3L833.2 657.2L834.1 660.4L835.0 659.2L835.9 653.9L836.8 645.4L837.7 635.0L838.6 624.3L839.5 615.1L840.4 608.8L841.3 606.5L842.2 608.5L843.1 614.5L844.0 623.6L844.9 634.2L845.8 644.7L846.7 653.4L847.6 659.0L848.5 660.4L849.4 657.6L850.3 650.9L851.2 641.4L852.1 630.7L853.0 620.4L853.9 612.2L854.8 607.4L855.7 606.8L856.6 610.4L857.5 617.8L858.4 627.6L859.3 638.4L860.2 648.4L861.1 656.0L862.0 660.0L862.9 659.8L863.8 655.4L864.7 647.4L865.6 637.3L866.5 626.5L867.4 616.9L868.3 609.9L869.2 606.7L870.1 607.7L871.0 612.9L871.9 621.4L872.8 631.8L873.7 642.5L874.6 651.8L875.5 658.1L876.4 660.5L877.3 658.5L878.2 652.6L879.1 643.6L879.9 633.0L880.8 622.5L881.7 613.7L882.6 608.1L883.5 606.6L884.4 609.3L885.3 615.9L886.2 625.4L887.1 636.1L888.0 646.4L888.9 654.7L889.8 659.5L890.7 660.2L891.6 656.7L892.5 649.4L893.4 639.6L894.3 628.8L895.2 618.7L896.1 611.1L897.0 607.0L897.9 607.1L898.8 611.5L899.7 619.4L900.6 629.5L901.5 640.3L902.4 650.0L903.3 657.0L904.2 660.3L905.1 659.3L906.0 654.2L906.9 645.7L907.8 635.3L908.7 624.7L909.6 615.4L910.5 609.0L911.4 606.5L912.3 608.4L913.2 614.2L914.1 623.2L915.0 633.8L915.9 644.3L916.8 653.1L917.7 658.8L918.6 660.4L919.5 657.8L920.4 651.2L921.3 641.8L922.2 631.1L923.1 620.8L924.0 612.5L924.9 607.5L925.8 606.7L926.7 610.2L927.6 617.5L928.5 627.2L929.4 638.0L930.3 648.1L931.2 655.8L932.1 660.0L933.0 659.9L933.9 655.6L934.8 647.8L935.7 637.7L936.6 626.9L937.5 617.2L938.4 610.1L939.3 606.7L940.2 607.6L941.1 612.7L942.0 621.1L942.9 631.5L943.8 642.2L944.7 651.5L945.6 657.9L946.5 660.5L947.4 658.7L948.3 652.9L949.2 644.0L950.1 633.4L951.0 622.9L951.9 614.0L952.8 608.3L953.7 606.6L954.6 609.2L955.5 615.7L956.4 625.0L957.3 635.7L958.2 646.1L959.1 654.4L960.0 659.4L960.9 660.3L961.8 656.8L962.7 649.7L963.6 639.9L964.5 629.2L965.4 619.1L966.3 611.3L967.2 607.1L968.1 607.1L969.0 611.3L969.9 619.1L970.8 629.1L971.7 639.9L972.6 649.7L973.5 656.8L974.4 660.3L975.3 659.4L976.2 654.4L977.1 646.1L978.0 635.7L978.9 625.0L979.8 615.7L980.7 609.2L981.6 606.6L982.5 608.3L983.4 614.0L984.3 622.8L985.2 633.4L986.1 644.0L987.0 652.9L987.9 658.7L988.8 660.4L989.7 657.9L990.6 651.5L991.5 642.2L992.4 631.5L993.3 621.1L994.2 612.7L995.1 607.6L996.0 606.7L996.9 610.1L997.8 617.2L998.7 626.9L999.6 637.6L1000.5 647.7L1001.4 655.6L1002.3 659.9L1003.2 660.0L1004.1 655.8L1005.0 648.1L1005.9 638.0L1006.8 627.3L1007.7 617.5L1008.6 610.3L1009.5 606.8L1010.4 607.5L1011.3 612.5L1012.2 620.7L1013.1 631.1L1014.0 641.8L1014.9 651.2L1015.8 657.7L1016.7 660.4L1017.6 658.8L1018.5 653.1L1019.4 644.3L1020.3 633.8L1021.2 623.2L1022.1 614.3L1023.0 608.4L1023.9 606.6L1024.8 609.0L1025.7 615.4L1026.6 624.6L1027.5 635.3L1028.4 645.7L1029.3 654.2L1030.2 659.3L1031.1 660.3L1032.0 657.0L1032.9 650.0L1033.8 640.3L1034.7 629.6L1035.6 619.4L1036.5 611.5L1037.4 607.2L1038.3 607.0L1039.2 611.1L1040.1 618.7L1041.0 628.8L1041.9 639.5L1042.8 649.3L1043.7 656.6L1044.6 660.2L1045.5 659.5L1046.4 654.7L1047.3 646.4L1048.2 636.1L1049.1 625.4L1050.0 616.0L1050.9 609.4L1051.8 606.6L1052.7 608.1L1053.6 613.7L1054.5 622.5L1055.4 633.0L1056.3 643.6L1057.2 652.6L1058.1 658.5L1059.0 660.4L1059.9 658.1L1060.8 651.8L1061.7 642.5L1062.6 631.9L1063.5 621.5L1064.4 613.0L1065.3 607.8L1066.2 606.7L1067.1 609.9L1068.0 616.9L1068.9 626.5L1069.8 637.3L1070.7 647.4L1071.6 655.3L1072.5 659.8L1073.4 660.0L1074.3 656.0L1075.2 648.4L1076.1 638.4L1077.0 627.7L1077.9 617.8L1078.8 610.5L1079.7 606.8L1080.6 607.4L1081.5 612.2L1082.4 620.4L1083.3 630.7L1084.2 641.4L1085.1 650.9L1086.0 657.6L1086.9 660.4L1087.8 658.9L1088.7 653.4L1089.6 644.7L1090.5 634.2L1091.4 623.6L1092.3 614.6L1093.2 608.6L1094.1 606.6L1095.0 608.9L1095.8 615.1L1096.7 624.3L1097.6 634.9L1098.5 645.4L1099.4 653.9L1100.3 659.2L1101.2 660.3L1102.1 657.2L1103.0 650.3L1103.9 640.7L1104.8 629.9L1105.7 619.8L1106.6 611.8L1107.5 607.3L1108.4 607.0L1109.3 610.9L1110.2 618.4L1111.1 628.4L1112.0 639.2L1112.9 649.0L1113.8 656.4L1114.7 660.1L1115.6 659.6L1116.5 654.9L1117.4 646.8L1118.3 636.5L1119.2 625.8L1120.1 616.3L1121.0 609.5L1121.9 606.6L1122.8 608.0L1123.7 613.5L1124.6 622.1L1125.5 632.6L1126.4 643.2L1127.3 652.3L1128.2 658.4L1129.1 660.4L1130.0 658.2L1130.9 652.0L1131.8 642.9L1132.7 632.3L1133.6 621.8L1134.5 613.2L1135.4 607.9L1136.3 606.7L1137.2 609.7L1138.1 616.6L1139.0 626.1L1139.9 636.9L1140.8 647.1L1141.7 655.1L1142.6 659.7L1143.5 660.1L1144.4 656.2L1145.3 648.7L1146.2 638.8L1147.1 628.0L1148.0 618.1L1148.9 610.7L1149.8 606.9L1150.7 607.4L1151.6 612.0L1152.5 620.1L1153.4 630.3L1154.3 641.0L1155.2 650.6L1156.1 657.4L1157.0 660.4L1157.9 659.0L1158.8 653.7L1159.7 645.0L1160.6 634.6L1161.5 624.0L1162.4 614.8L1163.3 608.7L1164.2 606.6L1165.1 608.7L1166.0 614.8L1166.9 623.9L1167.8 634.5L1168.7 645.0L1169.6 653.6L1170.5 659.0L1171.4 660.4L1172.3 657.4L1173.2 650.6L1174.1 641.1L1175.0 630.3L1175.9 620.1L1176.8 612.0L1177.7 607.4L1178.6 606.9L1179.5 610.7L1180.4 618.1L1181.3 628.0L1182.2 638.8L1183.1 648.7L1184.0 656.2L1184.9 660.1L1185.8 659.7L1186.7 655.1L1187.6 647.1L1188.5 636.9L1189.4 626.2L1190.3 616.6L1191.2 609.7L1192.1 606.7L1193.0 607.9L1193.9 613.2L1194.8 621.8L1195.7 632.2L1196.6 642.9L1197.5 652.0L1198.4 658.2L1199.3 660.4L1200.2 658.4L1201.1 652.3L1202.0 643.3L1202.9 632.7L1203.8 622.2L1204.7 613.5L1205.6 608.0L1206.5 606.6L1207.4 609.5L1208.3 616.3L1209.2 625.7L1210.1 636.5L1211.0 646.7L1211.9 654.9L1212.8 659.6L1213.7 660.1L1214.6 656.4L1215.5 649.0L1216.4 639.2L1217.3 628.4L1218.2 618.5L1219.1 610.9L1220.0 607.0L1220.9 607.3L1221.8 611.8L1222.7 619.7L1223.6 629.9L1224.5 640.6L1225.4 650.2L1226.3 657.2L1227.2 660.3L1228.1 659.2L1229.0 653.9L1229.9 645.4L1230.8 635.0L1231.7 624.3L1232.6 615.1L1233.5 608.9L1234.4 606.6L1235.3 608.6L1236.2 614.5L1237.1 623.6L1238.0 634.2L1238.9 644.6L1239.8 653.4L1240.7 658.9L1241.6 660.4L1242.5 657.5L1243.4 650.9L1244.3 641.4L1245.2 630.7L1246.1 620.5L1247.0 612.3L1247.9 607.5L1248.8 606.9L1249.7 610.5L1250.6 617.8L1251.5 627.6L1252.4 638.4L1253.3 648.4L1254.2 656.0L1255.1 660.0L1256.0 659.8L1256.9 655.3L1257.8 647.4L1258.7 637.3L1259.6 626.5L1260.5 616.9L1261.4 609.9L1262.3 606.7L1263.2 607.8L1264.1 613.0L1265.0 621.4L1265.9 631.8L1266.8 642.5L1267.7 651.7L1268.6 658.0L1269.5 660.4L1270.4 658.5L1271.3 652.6L1272.2 643.6L1273.1 633.0L1274.0 622.5L1274.9 613.8L1275.8 608.2L1276.7 606.6L1277.6 609.4L1278.5 616.0L1279.4 625.4L1280.3 636.1L1281.2 646.4L1282.1 654.6L1283.0 659.5L1283.9 660.2L1284.8 656.6L1285.7 649.4L1286.6 639.6L1287.5 628.8L1288.4 618.8L1289.3 611.1L1290.2 607.1L1291.1 607.2L1292.0 611.6L1292.9 619.4L1293.8 629.5L1294.7 640.3L1295.6 649.9L1296.5 657.0L1297.4 660.3L1298.3 659.3L1299.2 654.1L1300.1 645.7L1301.0 635.4L1301.9 624.7L1302.8 615.4L1303.7 609.1L1304.6 606.6L1305.5 608.4L1306.4 614.3L1307.3 623.2L1308.2 633.8L1309.1 644.3L1310.0 653.1L1310.9 658.7L1311.8 660.4L1312.6 657.7L1313.5 651.2L1314.4 641.8L1315.3 631.1L1316.2 620.8L1317.1 612.5L1318.0 607.6L1318.9 606.8L1319.8 610.3L1320.7 617.5L1321.6 627.2L1322.5 638.0L1323.4 648.0L1324.3 655.7L1325.2 659.9L1326.1 659.8L1327.0 655.6L1327.9 647.8L1328.8 637.7L1329.7 626.9L1330.6 617.2L1331.5 610.1L1332.4 606.8L1333.3 607.7L1334.2 612.7L1335.1 621.1L1336.0 631.4L1336.9 642.1L1337.8 651.4L1338.7 657.8L1339.6 660.4L1340.5 658.6L1341.4 652.9L1342.3 644.0L1343.2 633.4L1344.1 622.9L1345.0 614.1L1345.9 608.3L1346.8 606.6L1347.7 609.2L1348.6 615.7L1349.5 625.0L1350.4 635.7L1351.3 646.0L1352.2 654.4L1353.1 659.3L1354.0 660.2L1354.9 656.8L1355.8 649.7L1356.7 639.9L1357.6 629.2L1358.5 619.1L1359.4 611.4L1360.3 607.1L1361.2 607.1L1362.1 611.3L1363.0 619.1L1363.9 629.1L1364.8 639.9L1365.7 649.6L1366.6 656.8L1367.5 660.2L1368.4 659.4L1369.3 654.4L1370.2 646.1L1371.1 635.8L1372.0 625.1L1372.9 615.7L1373.8 609.2L1374.7 606.6L1375.6 608.3L1376.5 614.0L1377.4 622.8L1378.3 633.4L1379.2 643.9L1380.1 652.8L1381.0 658.6L1381.9 660.4L1382.8 657.9L1383.7 651.5L1384.6 642.2L1385.5 631.5L1386.4 621.2L1387.3 612.8L1388.2 607.7L1389.1 606.8L1390.0 610.1L1390.9 617.2L1391.8 626.9L1392.7 637.6L1393.6 647.7L1394.5 655.5L1395.4 659.8L1396.3 659.9L1397.2 655.8L1398.1 648.1L1399.0 638.1L1399.9 627.3L1400.8 617.5L1401.7 610.3L1402.6 606.8L1403.5 607.6L1404.4 612.5L1405.3 620.8L1406.2 631.1L1407.1 641.7L1408.0 651.1L1408.9 657.7L1409.8 660.4L1410.7 658.8L1411.6 653.1L1412.5 644.3L1413.4 633.8L1414.3 623.3L1415.2 614.3L1416.1 608.5L1417.0 606.6L1417.9 609.1L1418.8 615.4L1419.7 624.6L1420.6 635.3L1421.5 645.7L1422.4 654.1L1423.3 659.2L1424.2 660.2L1425.1 657.0L1426.0 650.0L1426.9 640.3L1427.8 629.6L1428.7 619.5L1429.6 611.6L1430.5 607.2L1431.4 607.1L1432.3 611.1L1433.2 618.8L1434.1 628.8L1435.0 639.5L1435.9 649.3L1436.8 656.6L1437.7 660.1L1438.6 659.5L1439.5 654.6L1440.4 646.4L1441.3 636.1L1442.2 625.4L1443.1 616.0L1444.0 609.4L1444.9 606.7L1445.8 608.2L1446.7 613.8L1447.6 622.5L1448.5 633.0L1449.4 643.6L1450.3 652.5L1451.2 658.4L1452.1 660.4L1453.0 658.0L1453.9 651.7L1454.8 642.5L1455.7 631.9L1456.6 621.5L1457.5 613.0L1458.4 607.8L1459.3 606.7L1460.2 609.9L1461.1 616.9L1462.0 626.5L1462.9 637.2L1463.8 647.4L1464.7 655.3L1465.6 659.7L1466.5 660.0L1467.4 656.0L1468.3 648.4L1469.2 638.4L1470.1 627.7L1471.0 617.9L1471.9 610.5L1472.8 606.9L1473.7 607.5L1474.6 612.3L1475.5 620.4L1476.4 630.7L1477.3 641.4L1478.2 650.8L1479.1 657.5L1480.0 660.3L1480.9 658.9L1481.8 653.4L1482.7 644.7L1483.6 634.2L1484.5 623.6L1485.4 614.6L1486.3 608.6L1487.2 606.6L1488.1 608.9L1489.0 615.1L1489.9 624.3L1490.8 634.9L1491.7 645.3L1492.6 653.8L1493.5 659.1L1494.4 660.3L1495.3 657.2L1496.2 650.3L1497.1 640.7L1498.0 630.0L1498.9 619.8L1499.8 611.8L1500.7 607.3L1501.6 607.0L1502.5 610.9L1503.4 618.4L1504.3 628.4L1505.2 639.1L1506.1 649.0L1507.0 656.3L1507.9 660.1L1508.8 659.5L1509.7 654.9L1510.6 646.7L1511.5 636.5L1512.4 625.8L1513.3 616.3L1514.2 609.6L1515.1 606.7L1516.0 608.1L1516.9 613.5L1517.8 622.1L1518.7 632.6L1519.6 643.2L1520.5 652.2L1521.4 658.3L1522.3 660.4L1523.2 658.2L1524.1 652.0L1525.0 642.9L1525.9 632.3L1526.8 621.9L1527.7 613.3L1528.5 608.0L1529.4 606.7L1530.3 609.8L1531.2 616.6L1532.1 626.1L1533.0 636.8L1533.9 647.0L1534.8 655.0L1535.7 659.6L1536.6 660.0L1537.5 656.2L1538.4 648.7L1539.3 638.8L1540.2 628.1L1541.1 618.2L1542.0 610.8L1542.9 607.0L1543.8 607.4L1544.7 612.0L1545.6 620.1L1546.5 630.3L1547.4 641.0L1548.3 650.5L1549.2 657.3L1550.1 660.3L1551.0 659.0L1551.9 653.6L1552.8 645.0L1553.7 634.6L1554.6 624.0L1555.5 614.9L1556.4 608.8L1557.3 606.6L1558.2 608.8L1559.1 614.8L1560.0 623.9L1560.9 634.5L1561.8 645.0L1562.7 653.6L1563.6 659.0L1564.5 660.3L1565.4 657.3L1566.3 650.6L1567.2 641.1L1568.1 630.4L1569.0 620.2L1569.9 612.1L1570.8 607.4L1571.7 607.0L1572.6 610.7L1573.5 618.1L1574.4 628.0L1575.3 638.7L1576.2 648.6L1577.1 656.1L1578.0 660.0L1578.9 659.6L1579.8 655.1L1580.7 647.1L1581.6 636.9L1582.5 626.2L1583.4 616.7L1584.3 609.8L1585.2 606.7L1586.1 608.0L1587.0 613.3L1587.9 621.8L1588.8 632.2L1589.7 642.8L1590.6 651.9L1591.5 658.1L1592.4 660.4L1593.3 658.3L1594.2 652.3L1595.1 643.3L1596.0 632.7L1596.9 622.2L1597.8 613.6L1598.7 608.1L1599.6 606.7L1600.5 609.6L1601.4 616.3L1602.3 625.7L1603.2 636.4L1604.1 646.7L1605.0 654.8L1605.9 659.5L1606.8 660.1L1607.7 656.4L1608.6 649.0L1609.5 639.2L1610.4 628.5L1611.3 618.5L1612.2 611.0L1613.1 607.0L1614.0 607.3L1614.9 611.8L1615.8 619.8L1616.7 629.9L1617.6 640.6L1618.5 650.2L1619.4 657.1L1620.3 660.2L1621.2 659.1L1622.1 653.9L1623.0 645.4L1623.9 635.0L1624.8 624.4L1625.7 615.2L1626.6 609.0L1627.5 606.6L1628.4 608.6L1629.3 614.6L1630.2 623.6L1631.1 634.1L1632.0 644.6L1632.9 653.3L1633.8 658.8L1634.7 660.3L1635.6 657.5L1636.5 650.9" stroke-width="2.45"/>
<path d="M236.0 797.5L243.0 797.5L245.5 795.5L247.5 795.3L248.2 795.6L248.9 796.6L249.6 798.0L250.3 799.6L251.1 801.2L251.8 802.6L252.5 803.6L253.2 803.9L254.0 803.3L254.7 801.5L255.5 798.8L256.2 795.6L257.0 792.4L257.8 789.7L258.5 787.9L259.3 787.3L260.0 787.9L260.8 789.7L261.5 792.5L262.3 796.0L263.0 799.9L263.7 803.8L264.5 807.3L265.2 810.1L265.9 811.9L266.7 812.5L267.4 811.6L268.1 809.2L268.9 805.5L269.6 800.8L270.3 795.6L271.1 790.4L271.8 785.7L272.5 781.9L273.3 779.5L274.0 778.7L274.8 779.9L275.5 783.5L276.2 789.0L277.0 795.7L277.7 802.8L278.4 809.5L279.2 815.0L279.9 818.6L280.6 819.8L281.4 818.4L282.2 814.3L282.9 808.0L283.7 800.3L284.4 792.1L285.2 784.4L286.0 778.1L286.7 774.0L287.5 772.6L288.3 774.0L289.0 778.2L289.8 784.7L290.6 792.6L291.3 801.0L292.1 808.9L292.8 815.4L293.6 819.6L294.4 821.0L295.2 819.7L295.9 815.7L296.7 809.5L297.5 802.0L298.3 794.0L299.1 786.5L299.9 780.4L300.7 776.4L301.5 775.0L302.2 776.3L303.0 780.1L303.8 785.9L304.5 793.0L305.3 800.6L306.0 807.7L306.8 813.5L307.6 817.3L308.3 818.6L309.1 817.6L309.8 814.7L310.5 810.1L311.3 804.4L312.0 798.0L312.7 791.7L313.5 786.0L314.2 781.4L315.0 778.5L315.7 777.5L316.4 778.6L317.2 782.0L317.9 787.1L318.6 793.5L319.4 800.2L320.1 806.5L320.8 811.6L321.6 815.0L322.3 816.1L323.0 815.3L323.8 812.7L324.5 808.7L325.2 803.6L326.0 798.0L326.7 792.4L327.5 787.4L328.2 783.4L328.9 780.8L329.7 779.9L330.4 780.9L331.2 783.9L331.9 788.4L332.7 793.9L333.5 799.7L334.2 805.3L335.0 809.7L335.8 812.7L336.5 813.7L337.3 812.8L338.0 810.0L338.8 805.9L339.6 800.8L340.3 795.3L341.1 790.2L341.9 786.0L342.6 783.3L343.4 782.4L344.2 783.3L345.0 785.9L345.8 789.9L346.5 794.8L347.3 800.0L348.1 804.9L348.9 809.0L349.7 811.6L350.5 812.5L351.3 811.6L352.0 809.1L352.8 805.3L353.5 800.5L354.3 795.5L355.1 790.8L355.8 787.0L356.6 784.5L357.4 783.6L358.1 784.3L358.8 786.2L359.6 789.3L360.3 793.2L361.0 797.4L361.8 801.7L362.5 805.5L363.2 808.6L364.0 810.6L364.7 811.2L365.5 810.4L366.2 808.2L367.0 804.6L367.8 800.3L368.5 795.7L369.3 791.4L370.0 787.9L370.8 785.6L371.6 784.8L372.5 785.8L373.4 788.7L374.3 792.9L375.2 798.0L376.1 803.0L377.0 807.1L377.9 809.8L378.8 810.4L379.7 809.1L380.6 805.8L381.5 801.2L382.4 796.0L383.3 791.0L384.2 787.0L385.1 784.7L386.0 784.4L386.9 786.2L387.8 789.8L388.7 794.6L389.6 800.0L390.5 805.0L391.3 808.8L392.2 810.8L393.1 810.7L394.0 808.5L394.9 804.5L395.8 799.4L396.7 793.9L397.6 789.0L398.5 785.4L399.4 783.7L400.3 784.2L401.2 786.9L402.1 791.2L403.0 796.6L403.9 802.1L404.8 807.0L405.7 810.4L406.6 811.7L407.5 810.7L408.4 807.7L409.3 803.0L410.2 797.4L411.1 791.7L412.0 787.0L412.9 783.9L413.8 783.0L414.7 784.4L415.6 787.9L416.5 792.9L417.4 798.7L418.3 804.4L419.2 808.9L420.1 811.7L421.0 812.2L421.9 810.4L422.8 806.5L423.7 801.1L424.6 795.1L425.5 789.5L426.4 785.1L427.3 782.7L428.2 782.6L429.1 785.0L430.0 789.3L430.9 795.0L431.8 801.1L432.7 806.6L433.6 810.8L434.5 812.8L435.4 812.4L436.3 809.6L437.2 804.9L438.1 798.9L439.0 792.7L439.9 787.3L440.8 783.4L441.7 781.8L442.6 782.6L443.5 785.9L444.4 791.0L445.3 797.2L446.2 803.5L447.1 808.8L448.0 812.2L448.9 813.4L449.8 812.0L450.7 808.3L451.6 802.9L452.5 796.6L453.4 790.5L454.3 785.5L455.2 782.4L456.1 781.7L457.0 783.6L457.9 787.6L458.8 793.3L459.7 799.6L460.6 805.6L461.5 810.3L462.4 812.9L463.3 813.1L464.2 810.8L465.1 806.4L466.0 800.6L466.9 794.2L467.8 788.4L468.7 784.1L469.6 781.9L470.5 782.2L471.4 784.9L472.3 789.6L473.2 795.6L474.1 801.9L475.0 807.5L475.9 811.5L476.8 813.2L477.7 812.5L478.6 809.3L479.5 804.3L480.4 798.2L481.3 792.0L482.2 786.6L483.1 783.0L484.0 781.7L484.9 783.0L485.8 786.5L486.7 791.8L487.6 798.0L488.5 804.1L489.4 809.2L490.3 812.4L491.2 813.2L492.1 811.5L492.9 807.6L493.8 802.1L494.7 795.9L495.6 789.9L496.5 785.1L497.4 782.3L498.3 781.9L499.2 784.1L500.1 788.3L501.0 794.0L501.9 800.3L502.8 806.1L503.7 810.6L504.6 812.9L505.5 812.8L506.4 810.3L507.3 805.7L508.2 799.8L509.1 793.6L510.0 787.9L510.9 783.8L511.8 781.9L512.7 782.5L513.6 785.5L514.5 790.3L515.4 796.4L516.3 802.6L517.2 808.0L518.1 811.7L519.0 813.1L519.9 812.1L520.8 808.7L521.7 803.6L522.6 797.5L523.5 791.4L524.4 786.2L525.3 782.9L526.2 781.9L527.1 783.4L528.0 787.1L528.9 792.5L529.8 798.7L530.7 804.7L531.6 809.5L532.5 812.5L533.4 813.0L534.3 811.1L535.2 807.0L536.1 801.4L537.0 795.1L537.9 789.3L538.8 784.8L539.7 782.3L540.6 782.2L541.5 784.6L542.4 789.0L543.3 794.8L544.2 801.0L545.1 806.7L546.0 810.9L546.9 813.0L547.8 812.6L548.7 809.8L549.6 805.0L550.5 799.1L551.4 792.9L552.3 787.4L553.2 783.6L554.1 781.9L555.0 782.8L555.9 786.0L556.8 791.0L557.7 797.1L558.6 803.2L559.5 808.5L560.4 811.9L561.3 813.1L562.2 811.8L563.1 808.2L564.0 802.9L564.9 796.7L565.8 790.7L566.7 785.7L567.6 782.7L568.5 782.0L569.4 783.7L570.3 787.7L571.2 793.2L572.1 799.4L573.0 805.3L573.9 810.0L574.8 812.7L575.7 812.9L576.6 810.7L577.5 806.4L578.4 800.6L579.3 794.4L580.2 788.7L581.1 784.3L582.0 782.1L582.9 782.3L583.8 785.0L584.7 789.6L585.6 795.5L586.5 801.7L587.4 807.3L588.3 811.2L589.2 813.0L590.1 812.3L591.0 809.3L591.9 804.3L592.8 798.3L593.7 792.2L594.5 786.8L595.4 783.2L596.3 781.9L597.2 783.1L598.1 786.5L599.0 791.7L599.9 797.9L600.8 803.9L601.7 809.0L602.6 812.2L603.5 813.1L604.4 811.5L605.3 807.6L606.2 802.2L607.1 796.0L608.0 790.0L608.9 785.3L609.8 782.5L610.7 782.0L611.6 784.1L612.5 788.3L613.4 793.9L614.3 800.2L615.2 806.0L616.1 810.4L617.0 812.8L617.9 812.8L618.8 810.3L619.7 805.7L620.6 799.9L621.5 793.7L622.4 788.1L623.3 784.0L624.2 782.0L625.1 782.5L626.0 785.4L626.9 790.3L627.8 796.3L628.7 802.4L629.6 807.8L630.5 811.6L631.4 813.1L632.3 812.1L633.2 808.8L634.1 803.7L635.0 797.6L635.9 791.5L636.8 786.3L637.7 783.0L638.6 781.9L639.5 783.3L640.4 787.0L641.3 792.4L642.2 798.6L643.1 804.6L644.0 809.5L644.9 812.4L645.8 813.0L646.7 811.1L647.6 807.1L648.5 801.5L649.4 795.2L650.3 789.4L651.2 784.8L652.1 782.3L653.0 782.2L653.9 784.5L654.8 788.9L655.7 794.7L656.6 800.9L657.5 806.6L658.4 810.8L659.3 812.9L660.2 812.6L661.1 809.8L662.0 805.1L662.9 799.2L663.8 793.0L664.7 787.5L665.6 783.6L666.5 781.9L667.4 782.8L668.3 785.9L669.2 790.9L670.1 797.0L671.0 803.1L671.9 808.4L672.8 811.9L673.7 813.1L674.6 811.8L675.5 808.3L676.4 803.0L677.3 796.8L678.2 790.8L679.1 785.8L680.0 782.7L680.9 781.9L681.8 783.7L682.7 787.6L683.6 793.1L684.5 799.3L685.4 805.2L686.3 809.9L687.2 812.6L688.1 812.9L689.0 810.7L689.9 806.5L690.8 800.7L691.7 794.5L692.6 788.8L693.5 784.4L694.4 782.1L695.3 782.3L696.1 784.9L697.0 789.5L697.9 795.4L698.8 801.6L699.7 807.2L700.6 811.2L701.5 813.0L702.4 812.4L703.3 809.4L704.2 804.5L705.1 798.4L706.0 792.3L706.9 786.9L707.8 783.3L708.7 781.9L709.6 783.0L710.5 786.4L711.4 791.6L712.3 797.7L713.2 803.8L714.1 808.9L715.0 812.2L715.9 813.1L716.8 811.5L717.7 807.7L718.6 802.3L719.5 796.1L720.4 790.1L721.3 785.3L722.2 782.5L723.1 782.0L724.0 784.0L724.9 788.2L725.8 793.8L726.7 800.1L727.6 805.9L728.5 810.4L729.4 812.8L730.3 812.8L731.2 810.3L732.1 805.8L733.0 800.0L733.9 793.8L734.8 788.2L735.7 784.0L736.6 782.0L737.5 782.5L738.4 785.4L739.3 790.2L740.2 796.1L741.1 802.3L742.0 807.7L742.9 811.5L743.8 813.1L744.7 812.1L745.6 808.9L746.5 803.8L747.4 797.7L748.3 791.6L749.2 786.4L750.1 783.0L751.0 781.9L751.9 783.3L752.8 787.0L753.7 792.3L754.6 798.5L755.5 804.5L756.4 809.4L757.3 812.4L758.2 813.0L759.1 811.2L760.0 807.1L760.9 801.6L761.8 795.4L762.7 789.5L763.6 784.9L764.5 782.3L765.4 782.1L766.3 784.4L767.2 788.8L768.1 794.6L769.0 800.8L769.9 806.5L770.8 810.8L771.7 812.9L772.6 812.6L773.5 809.9L774.4 805.2L775.3 799.3L776.2 793.1L777.1 787.6L778.0 783.7L778.9 781.9L779.8 782.7L780.7 785.8L781.6 790.8L782.5 796.9L783.4 803.0L784.3 808.3L785.2 811.8L786.1 813.1L787.0 811.9L787.9 808.4L788.8 803.1L789.7 797.0L790.6 790.9L791.5 785.9L792.4 782.7L793.3 781.9L794.2 783.6L795.1 787.5L796.0 793.0L796.9 799.2L797.7 805.1L798.6 809.9L799.5 812.6L800.4 812.9L801.3 810.8L802.2 806.6L803.1 800.9L804.0 794.6L804.9 788.9L805.8 784.5L806.7 782.2L807.6 782.3L808.5 784.8L809.4 789.4L810.3 795.3L811.2 801.5L812.1 807.1L813.0 811.1L813.9 813.0L814.8 812.4L815.7 809.4L816.6 804.6L817.5 798.6L818.4 792.4L819.3 787.0L820.2 783.3L821.1 781.9L822.0 783.0L822.9 786.3L823.8 791.5L824.7 797.6L825.6 803.7L826.5 808.8L827.4 812.1L828.3 813.1L829.2 811.6L830.1 807.8L831.0 802.4L831.9 796.2L832.8 790.2L833.7 785.4L834.6 782.5L835.5 782.0L836.4 784.0L837.3 788.1L838.2 793.7L839.1 799.9L840.0 805.8L840.9 810.3L841.8 812.8L842.7 812.8L843.6 810.4L844.5 805.9L845.4 800.1L846.3 793.9L847.2 788.3L848.1 784.1L849.0 782.0L849.9 782.5L850.8 785.3L851.7 790.1L852.6 796.0L853.5 802.2L854.4 807.7L855.3 811.5L856.2 813.1L857.1 812.2L858.0 808.9L858.9 803.9L859.8 797.8L860.7 791.7L861.6 786.5L862.5 783.0L863.4 781.9L864.3 783.3L865.2 786.9L866.1 792.2L867.0 798.4L867.9 804.4L868.8 809.3L869.7 812.4L870.6 813.0L871.5 811.2L872.4 807.2L873.3 801.7L874.2 795.5L875.1 789.6L876.0 785.0L876.9 782.3L877.8 782.1L878.7 784.4L879.6 788.7L880.5 794.4L881.4 800.7L882.3 806.4L883.2 810.7L884.1 812.9L885.0 812.6L885.9 810.0L886.8 805.3L887.7 799.4L888.6 793.2L889.5 787.7L890.4 783.7L891.3 782.0L892.2 782.7L893.1 785.8L894.0 790.7L894.9 796.8L895.8 802.9L896.7 808.2L897.6 811.8L898.5 813.1L899.3 811.9L900.2 808.4L901.1 803.2L902.0 797.1L902.9 791.0L903.8 786.0L904.7 782.8L905.6 781.9L906.5 783.6L907.4 787.4L908.3 792.9L909.2 799.1L910.1 805.0L911.0 809.8L911.9 812.6L912.8 812.9L913.7 810.9L914.6 806.7L915.5 801.0L916.4 794.7L917.3 789.0L918.2 784.5L919.1 782.2L920.0 782.3L920.9 784.8L921.8 789.3L922.7 795.2L923.6 801.4L924.5 807.0L925.4 811.1L926.3 813.0L927.2 812.5L928.1 809.5L929.0 804.7L929.9 798.7L930.8 792.5L931.7 787.1L932.6 783.4L933.5 781.9L934.4 782.9L935.3 786.3L936.2 791.4L937.1 797.5L937.8 797.5L941.0 797.5M1110.5 797.5L1113.0 797.5L1114.2 793.5L1115.1 784.5L1116.0 782.2L1116.9 782.3L1117.8 784.9L1118.7 789.4L1119.6 795.3L1120.5 801.5L1121.4 807.1L1122.3 811.2L1123.2 813.0L1124.1 812.4L1125.0 809.4L1125.9 804.5L1126.8 798.5L1127.7 792.3L1128.6 787.0L1129.5 783.3L1130.4 781.9L1131.3 783.0L1132.2 786.4L1133.1 791.6L1134.0 797.7L1134.9 803.8L1135.8 808.9L1136.7 812.2L1137.6 813.1L1138.5 811.5L1139.4 807.7L1140.3 802.2L1141.2 796.0L1142.1 790.1L1143.0 785.3L1143.9 782.5L1144.8 782.0L1145.7 784.1L1146.6 788.3L1147.5 793.9L1148.4 800.2L1149.3 806.0L1150.2 810.4L1151.1 812.8L1152.0 812.8L1152.9 810.3L1153.8 805.7L1154.7 799.9L1155.6 793.6L1156.5 788.0L1157.4 783.9L1158.3 782.0L1159.2 782.5L1160.1 785.5L1161.0 790.3L1161.9 796.3L1162.8 802.5L1163.7 807.9L1164.6 811.6L1165.5 813.1L1166.4 812.1L1167.3 808.7L1168.2 803.6L1169.1 797.4L1170.0 791.3L1170.9 786.2L1171.8 782.9L1172.7 781.9L1173.6 783.4L1174.5 787.2L1175.4 792.6L1176.3 798.8L1177.2 804.8L1178.1 809.6L1179.0 812.5L1179.8 813.0L1180.7 811.0L1181.6 806.9L1182.5 801.2L1183.4 795.0L1184.3 789.2L1185.2 784.7L1186.1 782.2L1187.0 782.2L1187.9 784.6L1188.8 789.1L1189.7 794.9L1190.6 801.2L1191.5 806.8L1192.4 811.0L1193.3 813.0L1194.2 812.5L1195.1 809.6L1196.0 804.8L1196.9 798.8L1197.8 792.7L1198.7 787.2L1199.6 783.5L1200.5 781.9L1201.4 782.9L1202.3 786.2L1203.2 791.3L1204.1 797.4L1205.0 803.5L1205.9 808.7L1206.8 812.0L1207.7 813.1L1208.6 811.7L1209.5 808.0L1210.4 802.6L1211.3 796.4L1212.2 790.4L1213.1 785.5L1214.0 782.6L1214.9 782.0L1215.8 783.9L1216.7 788.0L1217.6 793.6L1218.5 799.8L1219.4 805.7L1220.3 810.2L1221.2 812.7L1222.1 812.8L1223.0 810.5L1223.9 806.0L1224.8 800.2L1225.7 794.0L1226.6 788.3L1227.5 784.1L1228.4 782.0L1229.3 782.4L1230.2 785.2L1231.1 790.0L1232.0 796.0L1232.9 802.2L1233.8 807.6L1234.7 811.5L1235.6 813.1L1236.5 812.2L1237.4 809.0L1238.3 803.9L1239.2 797.8L1240.1 791.7L1241.0 786.5L1241.9 783.0L1242.8 781.9L1243.7 783.3L1244.6 786.9L1245.5 792.2L1246.4 798.4L1247.3 804.4L1248.2 809.3L1249.1 812.4L1250.0 813.0L1250.9 811.2L1251.8 807.2L1252.7 801.6L1253.6 795.4L1254.5 789.5L1255.4 784.9L1256.3 782.3L1257.2 782.1L1258.1 784.4L1259.0 788.8L1259.9 794.6L1260.8 800.8L1261.7 806.5L1262.6 810.8L1263.5 812.9L1264.4 812.6L1265.3 809.9L1266.2 805.2L1267.1 799.2L1268.0 793.0L1268.9 787.5L1269.8 783.6L1270.7 781.9L1271.6 782.7L1272.5 785.9L1273.4 790.9L1274.3 797.0L1275.2 803.1L1276.1 808.4L1277.0 811.9L1277.9 813.1L1278.8 811.8L1279.7 808.2L1280.6 802.9L1281.5 796.8L1282.4 790.7L1283.3 785.8L1284.2 782.7L1285.1 782.0L1286.0 783.7L1286.9 787.7L1287.8 793.2L1288.7 799.4L1289.6 805.3L1290.5 810.0L1291.4 812.7L1292.3 812.9L1293.2 810.7L1294.1 806.3L1295.0 800.6L1295.9 794.4L1296.8 788.6L1297.7 784.3L1298.6 782.1L1299.5 782.4L1300.4 785.0L1301.3 789.7L1302.2 795.6L1303.1 801.8L1304.0 807.3L1304.9 811.3L1305.8 813.0L1306.7 812.3L1307.6 809.2L1308.5 804.2L1309.4 798.2L1310.3 792.0L1311.1 786.7L1312.0 783.2L1312.9 781.9L1313.8 783.1L1314.7 786.6L1315.6 791.9L1316.5 798.0L1317.4 804.1L1318.3 809.1L1319.2 812.3L1320.1 813.1L1321.0 811.4L1321.9 807.5L1322.8 802.0L1323.7 795.8L1324.6 789.8L1325.5 785.1L1326.4 782.4L1327.3 782.1L1328.2 784.2L1329.1 788.5L1330.0 794.2L1330.9 800.4L1331.8 806.2L1332.7 810.6L1333.6 812.9L1334.5 812.7L1335.4 810.1L1336.3 805.5L1337.2 799.6L1338.1 793.4L1339.0 787.8L1339.9 783.8L1340.8 782.0L1341.7 782.6L1342.6 785.7L1343.5 790.6L1344.4 796.6L1345.3 802.8L1346.2 808.1L1347.1 811.7L1348.0 813.1L1348.9 812.0L1349.8 808.5L1350.7 803.3L1351.6 797.2L1352.5 791.1L1353.4 786.0L1354.3 782.8L1355.2 781.9L1356.1 783.5L1357.0 787.4L1357.9 792.9L1358.8 799.1L1359.7 805.0L1360.6 809.8L1361.5 812.6L1362.4 812.9L1363.3 810.9L1364.2 806.7L1365.1 801.0L1366.0 794.7L1366.9 788.9L1367.8 784.5L1368.7 782.2L1369.6 782.3L1370.5 784.8L1371.4 789.4L1372.3 795.2L1373.2 801.5L1374.1 807.0L1375.0 811.1L1375.9 813.0L1376.8 812.4L1377.7 809.5L1378.6 804.6L1379.5 798.6L1380.4 792.4L1381.3 787.0L1382.2 783.3L1383.1 781.9L1384.0 783.0L1384.9 786.4L1385.8 791.5L1386.7 797.7L1387.6 803.8L1388.5 808.9L1389.4 812.1L1390.3 813.1L1391.2 811.5L1392.1 807.8L1393.0 802.3L1393.9 796.1L1394.8 790.2L1395.7 785.3L1396.6 782.5L1397.5 782.0L1398.4 784.0L1399.3 788.2L1400.2 793.8L1401.1 800.1L1402.0 805.9L1402.9 810.4L1403.8 812.8L1404.7 812.8L1405.6 810.3L1406.5 805.8L1407.4 800.0L1408.3 793.7L1409.2 788.1L1410.1 784.0L1411.0 782.0L1411.9 782.5L1412.8 785.4L1413.7 790.3L1414.6 796.3L1415.5 802.4L1416.4 807.8L1417.3 811.6L1418.2 813.1L1419.1 812.1L1420.0 808.8L1420.9 803.6L1421.8 797.5L1422.7 791.4L1423.6 786.3L1424.5 782.9L1425.4 781.9L1426.3 783.4L1427.2 787.1L1428.1 792.5L1429.0 798.7L1429.9 804.7L1430.8 809.5L1431.7 812.5L1432.6 813.0L1433.5 811.1L1434.4 807.0L1435.3 801.3L1436.2 795.1L1437.1 789.3L1438.0 784.7L1438.9 782.2L1439.8 782.2L1440.7 784.6L1441.6 789.0L1442.4 794.9L1443.3 801.1L1444.2 806.7L1445.1 810.9L1446.0 813.0L1446.9 812.5L1447.8 809.7L1448.7 804.9L1449.6 798.9L1450.5 792.7L1451.4 787.3L1452.3 783.5L1453.2 781.9L1454.1 782.8L1455.0 786.1L1455.9 791.2L1456.8 797.3L1457.7 803.4L1458.6 808.6L1459.5 812.0L1460.4 813.1L1461.3 811.7L1462.2 808.0L1463.1 802.7L1464.0 796.5L1464.9 790.5L1465.8 785.6L1466.7 782.6L1467.6 782.0L1468.5 783.9L1469.4 787.9L1470.3 793.5L1471.2 799.7L1472.1 805.6L1473.0 810.2L1473.9 812.7L1474.8 812.8L1475.7 810.5L1476.6 806.1L1477.5 800.3L1478.4 794.1L1479.3 788.4L1480.2 784.2L1481.1 782.1L1482.0 782.4L1482.9 785.2L1483.8 789.9L1484.7 795.9L1485.6 802.1L1486.5 807.6L1487.4 811.4L1488.3 813.1L1489.2 812.2L1490.1 809.0L1491.0 804.0L1491.9 797.9L1492.8 791.8L1493.7 786.5L1494.6 783.1L1495.5 781.9L1496.4 783.2L1497.3 786.8L1498.2 792.1L1499.1 798.3L1500.0 804.3L1500.9 809.3L1501.8 812.3L1502.7 813.0L1503.6 811.2L1504.5 807.2L1505.4 801.7L1506.3 795.5L1507.2 789.6L1508.1 784.9L1509.0 782.3L1509.9 782.1L1510.8 784.4L1511.7 788.7L1512.6 794.5L1513.5 800.7L1514.4 806.4L1515.3 810.7L1516.2 812.9L1517.1 812.6L1518.0 809.9L1518.9 805.2L1519.8 799.3L1520.7 793.1L1521.6 787.6L1522.5 783.7L1523.4 781.9L1524.3 782.7L1525.2 785.9L1526.1 790.8L1527.0 796.9L1527.9 803.1L1528.8 808.3L1529.7 811.9L1530.6 813.1L1531.5 811.8L1532.4 808.3L1533.3 803.0L1534.2 796.9L1535.1 790.8L1536.0 785.8L1536.9 782.7L1537.8 781.9L1538.7 783.7L1539.6 787.6L1540.5 793.1L1541.4 799.3L1542.3 805.3L1543.2 809.9L1544.1 812.6L1545.0 812.9L1545.9 810.7L1546.8 806.4L1547.7 800.7L1548.6 794.5L1549.5 788.7L1550.4 784.4L1551.3 782.1L1552.2 782.3L1553.1 785.0L1554.0 789.6L1554.9 795.5L1555.8 801.7L1556.7 807.3L1557.6 811.3L1558.5 813.0L1559.4 812.3L1560.3 809.3L1561.2 804.3L1562.1 798.3L1563.0 792.1L1563.9 786.8L1564.8 783.2L1565.7 781.9L1566.6 783.1L1567.5 786.6L1568.4 791.8L1569.3 797.9L1570.2 804.0L1571.1 809.0L1572.0 812.2L1572.9 813.1L1573.7 811.4L1574.6 807.5L1575.5 802.1L1576.4 795.8L1577.3 789.9L1578.2 785.2L1579.1 782.4L1580.0 782.1L1580.9 784.2L1581.8 788.4L1582.7 794.1L1583.6 800.4L1584.5 806.1L1585.4 810.5L1586.3 812.9L1587.2 812.7L1588.1 810.1L1589.0 805.6L1589.9 799.7L1590.8 793.5L1591.7 787.9L1592.6 783.8L1593.5 782.0L1594.4 782.6L1595.3 785.6L1596.2 790.5L1597.1 796.5L1598.0 802.7L1598.9 808.1L1599.8 811.7L1600.7 813.1L1601.6 812.0L1602.5 808.6L1603.4 803.4L1604.3 797.2L1605.2 791.2L1606.1 786.1L1607.0 782.8L1607.9 781.9L1608.8 783.5L1609.7 787.3L1610.6 792.8L1611.5 799.0L1612.4 804.9L1613.3 809.7L1614.2 812.5L1615.1 813.0L1616.0 810.9L1616.9 806.7L1617.8 801.1L1618.7 794.8L1619.6 789.0L1620.5 784.6L1621.4 782.2L1622.3 782.2L1623.2 784.7L1624.1 789.3L1625.0 795.1L1625.9 801.4L1626.8 807.0L1627.7 811.1L1628.6 813.0L1629.5 812.5L1630.4 809.5L1631.3 804.7L1632.2 798.7L1633.1 792.5L1634.0 787.1L1634.9 783.4L1635.8 781.9L1636.7 782.9L1637.6 786.3L1638.5 791.4" stroke-width="2.45"/>
<path d="M236.0 962.5L243.0 962.5L245.5 959.5L247.5 959.2L248.2 959.6L248.9 960.9L249.6 962.7L250.3 964.9L251.1 967.1L251.8 968.9L252.5 970.1L253.2 970.6L254.0 969.6L254.7 966.7L255.5 962.4L256.2 957.4L257.0 952.3L257.8 948.0L258.5 945.2L259.3 944.1L260.0 945.1L260.8 948.0L261.5 952.4L262.3 957.9L263.0 964.1L263.7 970.3L264.5 975.8L265.2 980.2L265.9 983.1L266.7 984.0L267.4 982.8L268.1 979.2L268.9 973.5L269.6 966.4L270.3 958.6L271.1 950.7L271.8 943.6L272.5 938.0L273.3 934.4L274.0 933.1L274.8 934.9L275.5 940.2L276.2 948.3L277.0 958.2L277.7 968.8L278.4 978.7L279.2 986.7L279.9 992.0L280.6 993.8L281.4 991.8L282.2 985.9L282.9 976.8L283.7 965.7L284.4 953.9L285.2 942.8L286.0 933.7L286.7 927.8L287.5 925.8L288.3 927.9L289.0 934.2L289.8 943.7L290.6 955.4L291.3 967.9L292.1 979.6L292.8 989.1L293.6 995.4L294.4 997.5L295.2 995.4L295.9 989.4L296.7 980.2L297.5 968.9L298.3 956.9L299.1 945.5L299.9 936.3L300.7 930.3L301.5 928.2L302.2 930.2L303.0 935.7L303.8 944.3L304.5 954.8L305.3 966.0L306.0 976.5L306.8 985.1L307.6 990.7L308.3 992.6L309.1 991.1L309.8 986.8L310.5 980.1L311.3 971.6L312.0 962.3L312.7 952.9L313.5 944.4L314.2 937.7L315.0 933.4L315.7 931.9L316.4 933.6L317.2 938.6L317.9 946.2L318.6 955.5L319.4 965.4L320.1 974.7L320.8 982.3L321.6 987.2L322.3 988.9L323.0 987.6L323.8 983.8L324.5 977.9L325.2 970.5L326.0 962.3L326.7 954.0L327.5 946.6L328.2 940.7L328.9 936.9L329.7 935.6L330.4 937.1L331.2 941.5L331.9 948.3L332.7 956.6L333.5 965.5L334.2 973.8L335.0 980.5L335.8 985.0L336.5 986.5L337.3 985.0L338.0 980.8L338.8 974.4L339.6 966.5L340.3 958.0L341.1 950.1L341.9 943.7L342.6 939.5L343.4 938.0L344.2 939.4L345.0 943.4L345.8 949.5L346.5 957.0L347.3 965.0L348.1 972.5L348.9 978.7L349.7 982.7L350.5 984.0L351.3 982.7L352.0 978.9L352.8 973.1L353.5 966.0L354.3 958.5L355.1 951.4L355.8 945.6L356.6 941.8L357.4 940.5L358.1 941.5L358.8 944.5L359.6 949.2L360.3 955.1L361.0 961.6L361.8 968.2L362.5 974.1L363.2 978.8L364.0 981.8L364.7 982.8L365.5 981.6L366.2 978.0L367.0 972.5L367.8 965.8L368.5 958.7L369.3 952.0L370.0 946.5L370.8 942.9L371.6 941.7L372.5 943.3L373.4 948.0L374.3 955.0L375.2 963.2L376.1 971.2L377.0 977.9L377.9 982.1L378.8 983.3L379.7 981.1L380.6 976.0L381.5 968.7L382.4 960.5L383.3 952.5L384.2 946.2L385.1 942.4L386.0 941.9L386.9 944.6L387.8 950.1L388.7 957.6L389.6 965.9L390.5 973.6L391.4 979.6L392.3 982.9L393.2 982.9L394.1 979.7L395.0 973.8L395.9 966.0L396.8 957.8L397.7 950.2L398.6 944.7L399.5 941.9L400.4 942.4L401.3 946.1L402.2 952.4L403.1 960.3L404.0 968.6L404.9 975.9L405.8 981.2L406.7 983.5L407.6 982.5L408.5 978.3L409.4 971.6L410.3 963.4L411.2 955.0L412.1 947.7L413.0 942.8L413.9 941.0L414.7 942.5L415.6 947.3L416.5 954.5L417.4 963.1L418.3 971.5L419.2 978.6L420.1 983.2L421.0 984.5L421.9 982.3L422.8 976.9L423.7 969.3L424.6 960.5L425.5 952.0L426.4 945.1L427.3 940.9L428.2 940.2L429.1 943.0L430.0 948.9L430.9 957.0L431.8 966.0L432.7 974.6L433.6 981.2L434.5 984.9L435.4 985.1L436.3 981.6L437.2 975.1L438.1 966.6L439.0 957.4L439.9 948.9L440.8 942.6L441.7 939.4L442.6 939.8L443.5 943.9L444.4 950.9L445.3 959.8L446.2 969.2L447.1 977.5L448.0 983.4L448.9 986.0L449.8 984.9L450.7 980.2L451.6 972.7L452.5 963.6L453.4 954.4L454.3 946.4L455.2 941.0L456.1 939.0L457.0 940.7L457.9 945.9L458.8 953.7L459.7 962.9L460.6 972.1L461.5 979.7L462.4 984.6L463.3 985.9L464.2 983.6L465.1 977.9L466.0 969.8L466.9 960.5L467.8 951.6L468.7 944.4L469.6 940.0L470.5 939.2L471.4 942.2L472.3 948.3L473.2 956.7L474.1 966.0L475.0 974.7L475.9 981.5L476.8 985.3L477.7 985.5L478.6 982.0L479.5 975.4L480.4 966.8L481.3 957.5L482.2 949.0L483.1 942.7L484.0 939.5L484.9 939.9L485.8 943.9L486.7 950.9L487.6 959.7L488.5 969.0L489.4 977.2L490.3 983.1L491.2 985.7L492.1 984.6L493.0 980.1L493.9 972.7L494.8 963.8L495.7 954.6L496.6 946.7L497.5 941.3L498.4 939.3L499.3 940.9L500.2 946.0L501.1 953.7L502.0 962.8L502.9 971.8L503.8 979.3L504.7 984.2L505.6 985.6L506.5 983.4L507.4 977.9L508.3 969.9L509.2 960.7L510.1 951.9L511.0 944.7L511.9 940.4L512.8 939.5L513.7 942.3L514.6 948.3L515.5 956.6L516.4 965.8L517.3 974.4L518.2 981.2L519.1 985.0L520.0 985.2L520.9 981.8L521.8 975.4L522.7 966.9L523.6 957.7L524.5 949.3L525.4 943.0L526.3 939.8L527.2 940.1L528.1 944.1L529.0 950.9L529.9 959.6L530.8 968.7L531.7 976.9L532.6 982.7L533.5 985.4L534.4 984.4L535.3 980.0L536.2 972.8L537.1 963.9L538.0 954.9L538.9 947.0L539.8 941.6L540.7 939.5L541.6 941.1L542.5 946.0L543.4 953.6L544.3 962.6L545.2 971.6L546.1 979.1L547.0 984.0L547.9 985.5L548.8 983.3L549.7 977.9L550.6 970.0L551.5 960.9L552.4 952.1L553.3 944.9L554.2 940.5L555.1 939.6L556.0 942.3L556.9 948.3L557.8 956.5L558.7 965.6L559.6 974.2L560.5 981.0L561.4 984.9L562.3 985.2L563.2 981.9L564.1 975.5L565.0 967.1L565.9 957.9L566.8 949.5L567.7 943.1L568.6 939.8L569.5 940.1L570.4 944.0L571.3 950.8L572.2 959.4L573.1 968.5L574.0 976.7L574.9 982.7L575.8 985.4L576.7 984.5L577.6 980.1L578.5 972.9L579.4 964.1L580.3 955.0L581.2 947.1L582.1 941.7L583.0 939.5L583.9 941.0L584.8 945.9L585.7 953.4L586.6 962.4L587.5 971.4L588.4 979.0L589.3 983.9L590.2 985.5L591.1 983.4L592.0 978.0L592.9 970.1L593.8 961.1L594.7 952.2L595.6 945.0L596.5 940.6L597.4 939.6L598.3 942.3L599.2 948.1L600.1 956.3L601.0 965.4L601.9 974.1L602.8 980.9L603.7 984.8L604.6 985.2L605.5 982.0L606.4 975.7L607.3 967.2L608.2 958.1L609.1 949.6L610.0 943.2L610.9 939.9L611.8 940.1L612.7 943.9L613.6 950.6L614.5 959.2L615.4 968.4L616.3 976.6L617.2 982.6L618.1 985.4L619.0 984.5L619.9 980.2L620.8 973.1L621.7 964.3L622.6 955.2L623.5 947.2L624.4 941.7L625.3 939.5L626.2 941.0L627.1 945.8L628.0 953.3L628.9 962.2L629.8 971.2L630.7 978.9L631.6 983.9L632.5 985.5L633.4 983.5L634.3 978.1L635.2 970.3L636.1 961.2L637.0 952.4L637.9 945.1L638.8 940.6L639.7 939.6L640.6 942.2L641.5 948.0L642.4 956.1L643.3 965.3L644.2 974.0L645.0 980.8L645.9 984.8L646.8 985.2L647.7 982.1L648.6 975.8L649.5 967.4L650.4 958.2L651.3 949.8L652.2 943.3L653.1 939.9L654.0 940.0L654.9 943.8L655.8 950.5L656.7 959.1L657.6 968.2L658.5 976.5L659.4 982.5L660.3 985.3L661.2 984.6L662.1 980.3L663.0 973.2L663.9 964.4L664.8 955.3L665.7 947.4L666.6 941.8L667.5 939.5L668.4 940.9L669.3 945.7L670.2 953.1L671.1 962.1L672.0 971.1L672.9 978.7L673.8 983.8L674.7 985.5L675.6 983.5L676.5 978.3L677.4 970.5L678.3 961.4L679.2 952.5L680.1 945.2L681.0 940.7L681.9 939.6L682.8 942.1L683.7 947.9L684.6 956.0L685.5 965.1L686.4 973.8L687.3 980.7L688.2 984.8L689.1 985.3L690.0 982.1L690.9 975.9L691.8 967.6L692.7 958.4L693.6 949.9L694.5 943.4L695.4 939.9L696.3 940.0L697.2 943.7L698.1 950.3L699.0 958.9L699.9 968.1L700.8 976.3L701.7 982.4L702.6 985.3L703.5 984.6L704.4 980.4L705.3 973.4L706.2 964.6L707.1 955.5L708.0 947.5L708.9 941.9L709.8 939.5L710.7 940.8L711.6 945.6L712.5 953.0L713.4 961.9L714.3 970.9L715.2 978.6L716.1 983.7L717.0 985.5L717.9 983.6L718.8 978.4L719.7 970.6L720.6 961.6L721.5 952.7L722.4 945.3L723.3 940.7L724.2 939.6L725.1 942.0L726.0 947.8L726.9 955.8L727.8 964.9L728.7 973.7L729.6 980.6L730.5 984.7L731.4 985.3L732.3 982.2L733.2 976.1L734.1 967.7L735.0 958.6L735.9 950.0L736.8 943.5L737.7 939.9L738.6 940.0L739.5 943.6L740.4 950.2L741.3 958.7L742.2 967.9L743.1 976.2L744.0 982.3L744.9 985.3L745.8 984.7L746.7 980.5L747.6 973.5L748.5 964.8L749.4 955.6L750.3 947.6L751.2 942.0L752.1 939.5L753.0 940.8L753.9 945.5L754.8 952.8L755.7 961.7L756.6 970.8L757.5 978.5L758.4 983.7L759.3 985.5L760.1 984.3L760.9 981.1L761.7 976.4L762.4 971.1L763.2 966.4L764.0 963.2L764.8 962.0L768.0 962.0M1286.5 962.2L1289.7 964.0L1290.4 968.2L1291.2 974.0L1291.9 979.8L1292.6 984.0L1293.3 985.5L1294.2 984.0L1295.1 979.0L1296.0 971.5L1296.9 962.5L1297.8 953.5L1298.7 945.9L1299.6 941.0L1300.5 939.5L1301.4 941.7L1302.3 947.2L1303.2 955.1L1304.1 964.3L1305.0 973.1L1305.9 980.2L1306.8 984.6L1307.7 985.4L1308.6 982.5L1309.5 976.5L1310.4 968.2L1311.3 959.0L1312.2 950.4L1313.1 943.7L1314.0 940.0L1314.9 939.9L1315.8 943.4L1316.7 949.9L1317.6 958.5L1318.5 967.7L1319.4 976.0L1320.3 982.2L1321.2 985.3L1322.1 984.7L1322.9 980.6L1323.8 973.6L1324.7 964.8L1325.6 955.7L1326.5 947.6L1327.4 941.9L1328.3 939.5L1329.2 940.8L1330.1 945.5L1331.0 953.0L1331.9 961.9L1332.8 971.0L1333.7 978.7L1334.6 983.8L1335.5 985.5L1336.4 983.6L1337.3 978.3L1338.2 970.4L1339.1 961.4L1340.0 952.5L1340.9 945.2L1341.8 940.6L1342.7 939.6L1343.6 942.2L1344.5 948.0L1345.4 956.2L1346.3 965.4L1347.2 974.1L1348.1 980.9L1349.0 984.8L1349.9 985.2L1350.8 981.9L1351.7 975.6L1352.6 967.1L1353.5 957.9L1354.4 949.5L1355.3 943.1L1356.2 939.8L1357.1 940.1L1358.0 944.0L1358.9 950.9L1359.8 959.6L1360.7 968.7L1361.6 976.9L1362.5 982.8L1363.4 985.4L1364.3 984.4L1365.2 979.9L1366.1 972.6L1367.0 963.7L1367.9 954.6L1368.8 946.8L1369.7 941.5L1370.6 939.5L1371.5 941.2L1372.4 946.3L1373.3 954.0L1374.2 963.0L1375.1 972.0L1376.0 979.4L1376.9 984.2L1377.8 985.5L1378.7 983.1L1379.6 977.4L1380.4 969.4L1381.3 960.3L1382.2 951.5L1383.1 944.5L1384.0 940.3L1384.9 939.7L1385.8 942.7L1386.7 948.9L1387.6 957.3L1388.5 966.4L1389.4 975.0L1390.3 981.6L1391.2 985.1L1392.1 985.0L1393.0 981.3L1393.9 974.7L1394.8 966.0L1395.7 956.9L1396.6 948.6L1397.5 942.5L1398.4 939.7L1399.3 940.4L1400.2 944.7L1401.1 951.8L1402.0 960.7L1402.9 969.8L1403.8 977.7L1404.7 983.3L1405.6 985.5L1406.5 984.0L1407.4 979.1L1408.3 971.6L1409.2 962.6L1410.1 953.6L1411.0 946.0L1411.9 941.1L1412.8 939.5L1413.7 941.6L1414.6 947.1L1415.5 955.0L1416.4 964.1L1417.3 973.0L1418.2 980.1L1419.1 984.5L1420.0 985.4L1420.9 982.6L1421.8 976.6L1422.7 968.3L1423.6 959.2L1424.5 950.5L1425.4 943.8L1426.3 940.1L1427.2 939.9L1428.1 943.3L1429.0 949.8L1429.9 958.3L1430.8 967.5L1431.7 975.9L1432.6 982.1L1433.5 985.3L1434.4 984.7L1435.3 980.7L1436.2 973.7L1437.1 965.0L1437.9 955.8L1438.8 947.7L1439.7 942.0L1440.6 939.6L1441.5 940.8L1442.4 945.4L1443.3 952.8L1444.2 961.8L1445.1 970.8L1446.0 978.5L1446.9 983.7L1447.8 985.5L1448.7 983.6L1449.6 978.4L1450.5 970.6L1451.4 961.5L1452.3 952.6L1453.2 945.3L1454.1 940.7L1455.0 939.6L1455.9 942.1L1456.8 947.9L1457.7 956.0L1458.6 965.2L1459.5 973.9L1460.4 980.8L1461.3 984.8L1462.2 985.2L1463.1 982.0L1464.0 975.7L1464.9 967.3L1465.8 958.1L1466.7 949.6L1467.6 943.2L1468.5 939.8L1469.4 940.1L1470.3 943.9L1471.2 950.7L1472.1 959.4L1473.0 968.6L1473.9 976.8L1474.8 982.7L1475.7 985.4L1476.6 984.4L1477.5 980.0L1478.4 972.7L1479.3 963.9L1480.2 954.8L1481.1 946.9L1482.0 941.5L1482.9 939.5L1483.8 941.1L1484.7 946.2L1485.6 953.8L1486.5 962.9L1487.4 971.8L1488.3 979.3L1489.2 984.1L1490.1 985.5L1491.0 983.2L1491.9 977.6L1492.8 969.5L1493.7 960.4L1494.6 951.6L1495.4 944.6L1496.3 940.4L1497.2 939.7L1498.1 942.7L1499.0 948.8L1499.9 957.1L1500.8 966.3L1501.7 974.9L1502.6 981.5L1503.5 985.0L1504.4 985.0L1505.3 981.4L1506.2 974.8L1507.1 966.2L1508.0 957.0L1508.9 948.7L1509.8 942.6L1510.7 939.7L1511.6 940.4L1512.5 944.6L1513.4 951.7L1514.3 960.5L1515.2 969.6L1516.1 977.6L1517.0 983.2L1517.9 985.5L1518.8 984.1L1519.7 979.2L1520.6 971.7L1521.5 962.8L1522.4 953.7L1523.3 946.1L1524.2 941.1L1525.1 939.5L1526.0 941.6L1526.9 947.0L1527.8 954.9L1528.7 964.0L1529.6 972.8L1530.5 980.0L1531.4 984.5L1532.3 985.4L1533.2 982.7L1534.1 976.7L1535.0 968.5L1535.9 959.3L1536.8 950.7L1537.7 943.9L1538.6 940.1L1539.5 939.9L1540.4 943.2L1541.3 949.7L1542.2 958.2L1543.1 967.4L1544.0 975.8L1544.9 982.1L1545.8 985.2L1546.7 984.8L1547.6 980.8L1548.5 973.8L1549.4 965.1L1550.3 956.0L1551.2 947.9L1552.1 942.1L1552.9 939.6L1553.8 940.7L1554.7 945.3L1555.6 952.7L1556.5 961.6L1557.4 970.7L1558.3 978.4L1559.2 983.7L1560.1 985.5L1561.0 983.7L1561.9 978.5L1562.8 970.7L1563.7 961.7L1564.6 952.7L1565.5 945.4L1566.4 940.7L1567.3 939.6L1568.2 942.1L1569.1 947.8L1570.0 955.9L1570.9 965.1L1571.8 973.8L1572.7 980.7L1573.6 984.8L1574.5 985.2L1575.4 982.1L1576.3 975.8L1577.2 967.4L1578.1 958.2L1579.0 949.7L1579.9 943.3L1580.8 939.9L1581.7 940.1L1582.6 943.9L1583.5 950.6L1584.4 959.3L1585.3 968.4L1586.2 976.7L1587.1 982.6L1588.0 985.4L1588.9 984.5L1589.8 980.1L1590.7 972.9L1591.6 964.0L1592.5 954.9L1593.4 947.0L1594.3 941.6L1595.2 939.5L1596.1 941.1L1597.0 946.1L1597.9 953.7L1598.8 962.7L1599.7 971.7L1600.6 979.2L1601.5 984.1L1602.4 985.5L1603.3 983.2L1604.2 977.7L1605.1 969.7L1606.0 960.6L1606.9 951.8L1607.8 944.7L1608.7 940.4L1609.6 939.7L1610.4 942.6L1611.3 948.7L1612.2 957.0L1613.1 966.1L1614.0 974.7L1614.9 981.4L1615.8 985.0L1616.7 985.1L1617.6 981.5L1618.5 974.9L1619.4 966.3L1620.3 957.2L1621.2 948.8L1622.1 942.7L1623.0 939.7L1623.9 940.3L1624.8 944.5L1625.7 951.6L1626.6 960.4L1627.5 969.5L1628.4 977.5L1629.3 983.1L1630.2 985.5L1631.1 984.1L1632.0 979.4L1632.9 971.9L1633.8 962.9L1634.7 953.9L1635.6 946.2L1636.5 941.2L1637.4 939.5L1638.3 941.5L1639.2 946.9" stroke-width="2.45"/>
<path d="M1637.6 295.2h-8M1637.8 462.2h-8M1637.8 633.5h-8M1639.5 797.5h-8M1640.2 962.5h-8" stroke-width="2.6"/>
<path d="M236.0 133.8L247.0 133.8" stroke-width="3"/>
<path d="M237.6 257.0L238.0 294.0L247.0 294.5" stroke-width="5.5"/>
</g>
<g filter="url(#t)">
<g font-family="'Liberation Serif', 'Times New Roman', serif" font-weight="bold" font-size="61.5" fill="#000">
<text transform="translate(922.4 63.2) scale(1 1.035)" text-anchor="middle">Grid</text>
<text transform="translate(940.4 235.7) scale(1 1.035)" text-anchor="middle">PV</text>
<text transform="translate(935.9 404.2) scale(1 1.035)" text-anchor="middle">UPS</text>
<text transform="translate(923.4 570.9) scale(1 1.035)" text-anchor="middle">Load B</text>
<text transform="translate(923.9 735.6) scale(1 1.035)" text-anchor="middle">Load D</text>
<text transform="translate(923.9 899.4) scale(1 1.035)" text-anchor="middle">Load E</text>
<text transform="translate(228.3 110.5) scale(1 1.035)" text-anchor="end">5</text>
<text transform="translate(227.0 200.8) scale(1 1.035)" text-anchor="end">-5</text>
<text transform="translate(226.2 271.5) scale(1 1.035)" text-anchor="end">2</text>
<text transform="translate(225.5 358.3) scale(1 1.035)" text-anchor="end">-2</text>
<text transform="translate(224.2 436.5) scale(1 1.035)" text-anchor="end">100</text>
<text transform="translate(223.6 525.8) scale(1 1.035)" text-anchor="end">-100</text>
<text transform="translate(225.7 608.0) scale(1 1.035)" text-anchor="end">10</text>
<text transform="translate(223.7 694.5) scale(1 1.035)" text-anchor="end">-10</text>
<text transform="translate(226.1 770.7) scale(1 1.035)" text-anchor="end">50</text>
<text transform="translate(223.4 859.7) scale(1 1.035)" text-anchor="end">-50</text>
<text transform="translate(226.1 942.2) scale(1 1.035)" text-anchor="end">50</text>
<text transform="translate(223.4 1027.7) scale(1 1.035)" text-anchor="end">-50</text>
<text transform="translate(238.0 70.8) scale(1 1.035)" text-anchor="start">x10<tspan font-size="41" dy="-17" dx="0.3">4</tspan></text>
<text transform="translate(232.5 237.4) scale(1 1.035)" text-anchor="start">x10<tspan font-size="41" dy="-18" dx="0.5">5</tspan></text>
<text transform="translate(245.7 1075.5) scale(1 1.035)" text-anchor="middle">0</text>
<text transform="translate(376.7 1075.5) scale(1 1.035)" text-anchor="middle">0.2</text>
<text transform="translate(510.5 1075.5) scale(1 1.035)" text-anchor="middle">0.4</text>
<text transform="translate(661.2 1074.1) scale(1 1.035)" text-anchor="middle">0.6</text>
<text transform="translate(799.4 1074.7) scale(1 1.035)" text-anchor="middle">0.8</text>
<text transform="translate(942.5 1073.7) scale(1 1.035)" text-anchor="middle">1</text>
<text transform="translate(1082.4 1074.3) scale(1 1.035)" text-anchor="middle">1.2</text>
<text transform="translate(1219.7 1075.5) scale(1 1.035)" text-anchor="middle">1.4</text>
<text transform="translate(1359.2 1076.0) scale(1 1.035)" text-anchor="middle">1.6</text>
<text transform="translate(1498.7 1074.3) scale(1 1.035)" text-anchor="middle">1.8</text>
<text transform="translate(1637.8 1073.7) scale(1 1.035)" text-anchor="middle">2</text>
<text transform="translate(221.0 1145.0) scale(1 1.035)" text-anchor="end">Modes</text>
</g>
<g font-family="'Liberation Serif', 'Times New Roman', serif" font-weight="bold" font-size="61.5" fill="#008000" text-anchor="middle">
<text transform="translate(438.0 1144.5) scale(1 1.035)" text-anchor="middle">1</text>
<text transform="translate(685.0 1146.5) scale(1 1.035)" text-anchor="middle">2</text>
<text transform="translate(853.8 1147.4) scale(1 1.035)" text-anchor="middle">3</text>
<text transform="translate(1025.7 1146.3) scale(1 1.035)" text-anchor="middle">4</text>
<text transform="translate(1200.5 1143.0) scale(1 1.035)" text-anchor="middle">5</text>
<text transform="translate(1380.2 1144.5) scale(1 1.035)" text-anchor="middle">6</text>
<text transform="translate(1568.7 1146.9) scale(1 1.035)" text-anchor="middle">7</text>
</g>
<g font-family="'Liberation Serif', 'Times New Roman', serif" font-weight="bold" font-size="61.5" fill="#000080" text-anchor="middle">
<text transform="translate(944.1 1272.0) scale(1 1.035)" text-anchor="middle">Time (sec)</text>
<text transform="translate(64.5 557.7) rotate(-90) scale(1 1.035)">Current (A)</text>
</g>
<g stroke="#008000" fill="none">
<path d="M240.5 1163H1640.4" stroke-width="7.8" stroke-linecap="round"/>
<path d="M240.5 1107.6V1163M592.7 1107.6V1163M766.0 1107.6V1163M939.2 1107.6V1163M1117.9 1107.6V1163M1291.3 1107.6V1163M1469.8 1107.6V1163M1640.4 1107.6V1163" stroke-width="8.4" stroke-linecap="round" stroke-dasharray="7.9 16.5"/>
</g>
<g stroke="#000080" fill="none" stroke-width="9" stroke-linecap="round">
<path d="M93 105.1V1005" stroke-dasharray="7.3 16.8"/>
<path d="M268.9 1203.7H1600" stroke-dasharray="7.3 16.74"/>
</g>
<g fill="#000080">
<path d="M93 65.2L78.6 109.5H107.4Z"/>
<path d="M93 1054.8L78.4 1011.8H107.6Z"/>
<path d="M229.2 1203.7L273 1189.6V1217.8Z"/>
<path d="M1640.3 1203.9L1597.2 1189.8V1218Z"/>
</g>
</g>
</svg>
</body></html>
